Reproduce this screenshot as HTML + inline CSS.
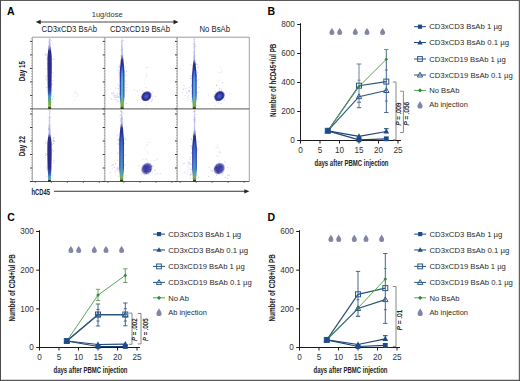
<!DOCTYPE html>
<html><head><meta charset="utf-8"><style>
html,body{margin:0;padding:0;background:#fff;}
svg{display:block;}
</style></head><body>
<svg width="520" height="381" viewBox="0 0 520 381" font-family="Liberation Sans, sans-serif">
<rect width="520" height="381" fill="#fff"/>
<text x="267.40" y="14.60" font-size="10.5" fill="#000" text-anchor="start" font-weight="bold" >B</text>
<line x1="300.50" y1="140.50" x2="300.50" y2="23.20" stroke="#1a1a1a" stroke-width="1.05" />
<line x1="300.00" y1="140.50" x2="401.00" y2="140.50" stroke="#1a1a1a" stroke-width="1.05" />
<line x1="297.20" y1="140.50" x2="300.50" y2="140.50" stroke="#1a1a1a" stroke-width="1" />
<text x="294.90" y="143.30" font-size="8.2" fill="#333" text-anchor="end" font-weight="normal" >0</text>
<line x1="297.20" y1="111.50" x2="300.50" y2="111.50" stroke="#1a1a1a" stroke-width="1" />
<text x="294.90" y="114.30" font-size="8.2" fill="#333" text-anchor="end" font-weight="normal" >200</text>
<line x1="297.20" y1="82.50" x2="300.50" y2="82.50" stroke="#1a1a1a" stroke-width="1" />
<text x="294.90" y="85.30" font-size="8.2" fill="#333" text-anchor="end" font-weight="normal" >400</text>
<line x1="297.20" y1="53.50" x2="300.50" y2="53.50" stroke="#1a1a1a" stroke-width="1" />
<text x="294.90" y="56.30" font-size="8.2" fill="#333" text-anchor="end" font-weight="normal" >600</text>
<line x1="297.20" y1="24.50" x2="300.50" y2="24.50" stroke="#1a1a1a" stroke-width="1" />
<text x="294.90" y="27.30" font-size="8.2" fill="#333" text-anchor="end" font-weight="normal" >800</text>
<line x1="300.50" y1="140.50" x2="300.50" y2="143.50" stroke="#1a1a1a" stroke-width="1" />
<text x="300.50" y="153.20" font-size="8.2" fill="#333" text-anchor="middle" font-weight="normal" >0</text>
<line x1="320.00" y1="140.50" x2="320.00" y2="143.50" stroke="#1a1a1a" stroke-width="1" />
<text x="320.00" y="153.20" font-size="8.2" fill="#333" text-anchor="middle" font-weight="normal" >5</text>
<line x1="339.50" y1="140.50" x2="339.50" y2="143.50" stroke="#1a1a1a" stroke-width="1" />
<text x="339.50" y="153.20" font-size="8.2" fill="#333" text-anchor="middle" font-weight="normal" >10</text>
<line x1="359.00" y1="140.50" x2="359.00" y2="143.50" stroke="#1a1a1a" stroke-width="1" />
<text x="359.00" y="153.20" font-size="8.2" fill="#333" text-anchor="middle" font-weight="normal" >15</text>
<line x1="378.50" y1="140.50" x2="378.50" y2="143.50" stroke="#1a1a1a" stroke-width="1" />
<text x="378.50" y="153.20" font-size="8.2" fill="#333" text-anchor="middle" font-weight="normal" >20</text>
<line x1="398.00" y1="140.50" x2="398.00" y2="143.50" stroke="#1a1a1a" stroke-width="1" />
<text x="398.00" y="153.20" font-size="8.2" fill="#333" text-anchor="middle" font-weight="normal" >25</text>
<text x="351.50" y="166.10" font-size="9" fill="#222" text-anchor="middle" font-weight="bold" textLength="74" lengthAdjust="spacingAndGlyphs" >days after PBMC injection</text>
<text x="275.90" y="80.35" font-size="9" fill="#222" text-anchor="middle" font-weight="bold" textLength="73.2" lengthAdjust="spacingAndGlyphs" transform="rotate(-90 275.90 80.35)" >Number of hCD45+/ul PB</text>
<path d="M331.90,27.70 C332.40,29.10 334.40,31.00 334.40,32.60 A2.50,2.50 0 0 1 329.40,32.60 C329.40,31.00 331.40,29.10 331.90,27.70 Z" fill="#8185a6"/>
<path d="M339.70,27.70 C340.20,29.10 342.20,31.00 342.20,32.60 A2.50,2.50 0 0 1 337.20,32.60 C337.20,31.00 339.20,29.10 339.70,27.70 Z" fill="#8185a6"/>
<path d="M355.30,27.70 C355.80,29.10 357.80,31.00 357.80,32.60 A2.50,2.50 0 0 1 352.80,32.60 C352.80,31.00 354.80,29.10 355.30,27.70 Z" fill="#8185a6"/>
<path d="M367.00,27.70 C367.50,29.10 369.50,31.00 369.50,32.60 A2.50,2.50 0 0 1 364.50,32.60 C364.50,31.00 366.50,29.10 367.00,27.70 Z" fill="#8185a6"/>
<path d="M382.60,27.70 C383.10,29.10 385.10,31.00 385.10,32.60 A2.50,2.50 0 0 1 380.10,32.60 C380.10,31.00 382.10,29.10 382.60,27.70 Z" fill="#8185a6"/>
<line x1="359.00" y1="64.00" x2="359.00" y2="107.70" stroke="#6a7e9e" stroke-width="1" />
<line x1="386.30" y1="49.50" x2="386.30" y2="112.50" stroke="#47678f" stroke-width="1" />
<line x1="386.30" y1="128.70" x2="386.30" y2="131.00" stroke="#1f4576" stroke-width="1" />
<line x1="356.60" y1="64.00" x2="361.40" y2="64.00" stroke="#6a7e9e" stroke-width="1" />
<line x1="357.60" y1="80.20" x2="360.40" y2="80.20" stroke="#6a7e9e" stroke-width="1" />
<line x1="357.00" y1="102.20" x2="361.00" y2="102.20" stroke="#47678f" stroke-width="1" />
<line x1="356.80" y1="107.70" x2="361.20" y2="107.70" stroke="#47678f" stroke-width="1" />
<line x1="384.10" y1="49.50" x2="388.50" y2="49.50" stroke="#6e9e66" stroke-width="1" />
<line x1="384.90" y1="70.00" x2="387.70" y2="70.00" stroke="#47678f" stroke-width="1" />
<line x1="384.90" y1="101.00" x2="387.70" y2="101.00" stroke="#47678f" stroke-width="1" />
<line x1="384.10" y1="112.50" x2="388.50" y2="112.50" stroke="#47678f" stroke-width="1" />
<line x1="384.00" y1="128.70" x2="388.60" y2="128.70" stroke="#1f4576" stroke-width="1" />
<polyline points="327.80,130.80 359.00,139.80 386.30,138.80" fill="none" stroke="#1f4576" stroke-width="1.2"/>
<polyline points="327.80,130.80 359.00,136.40 386.30,131.50" fill="none" stroke="#1f4576" stroke-width="1.2"/>
<polyline points="327.80,130.80 359.00,85.70 386.30,81.60" fill="none" stroke="#2b5580" stroke-width="1.2"/>
<polyline points="327.80,130.80 359.00,96.70 386.30,90.50" fill="none" stroke="#2b5580" stroke-width="1.2"/>
<polyline points="327.80,130.80 359.00,86.50 386.30,59.30" fill="none" stroke="#55a84c" stroke-width="1"/>
<rect x="325.30" y="128.30" width="5" height="5" fill="none" stroke="#2c5a8c" stroke-width="1"/>
<rect x="356.50" y="83.20" width="5" height="5" fill="none" stroke="#2c5a8c" stroke-width="1"/>
<rect x="383.80" y="79.10" width="5" height="5" fill="none" stroke="#2c5a8c" stroke-width="1"/>
<path d="M327.80,128.00 L330.50,132.80 L325.10,132.80 Z" fill="none" stroke="#2c5a8c" stroke-width="1"/>
<path d="M359.00,93.90 L361.70,98.70 L356.30,98.70 Z" fill="none" stroke="#2c5a8c" stroke-width="1"/>
<path d="M386.30,87.70 L389.00,92.50 L383.60,92.50 Z" fill="none" stroke="#2c5a8c" stroke-width="1"/>
<path d="M327.80,129.00 L329.60,130.80 L327.80,132.60 L326.00,130.80 Z" fill="#2f8a3a"/>
<path d="M359.00,84.70 L360.80,86.50 L359.00,88.30 L357.20,86.50 Z" fill="#2f8a3a"/>
<path d="M386.30,57.50 L388.10,59.30 L386.30,61.10 L384.50,59.30 Z" fill="#2f8a3a"/>
<path d="M327.80,127.70 L330.70,132.90 L324.90,132.90 Z" fill="#1c4c88"/>
<path d="M359.00,133.30 L361.90,138.50 L356.10,138.50 Z" fill="#1c4c88"/>
<path d="M386.30,128.40 L389.20,133.60 L383.40,133.60 Z" fill="#1c4c88"/>
<rect x="325.40" y="128.40" width="4.8" height="4.8" fill="#1c4c88"/>
<rect x="356.60" y="137.40" width="4.8" height="4.8" fill="#1c4c88"/>
<rect x="383.90" y="136.40" width="4.8" height="4.8" fill="#1c4c88"/>
<polyline points="392.80,82.00 396.00,82.00 396.00,139.80 392.80,139.80" fill="none" stroke="#7c7c76" stroke-width="0.9"/>
<text x="401.30" y="114.10" font-size="6.4" fill="#111" text-anchor="middle" font-weight="normal" textLength="23" lengthAdjust="spacingAndGlyphs" transform="rotate(-90 401.30 114.10)" stroke="#111" stroke-width="0.2"><tspan font-style="italic">P</tspan> = .009</text>
<polyline points="400.20,91.20 403.40,91.20 403.40,132.50 400.20,132.50" fill="none" stroke="#7c7c76" stroke-width="0.9"/>
<text x="408.60" y="113.70" font-size="6.4" fill="#111" text-anchor="middle" font-weight="normal" textLength="23.5" lengthAdjust="spacingAndGlyphs" transform="rotate(-90 408.60 113.70)" stroke="#111" stroke-width="0.2"><tspan font-style="italic">P</tspan> = .056</text>
<line x1="414.00" y1="26.70" x2="426.00" y2="26.70" stroke="#1f4576" stroke-width="1" />
<rect x="417.90" y="24.60" width="4.2" height="4.2" fill="#1c4c88"/>
<text x="429.20" y="29.40" font-size="7.7" fill="#2a2a2a" text-anchor="start" font-weight="normal" textLength="73" lengthAdjust="spacingAndGlyphs" >CD3xCD3 BsAb 1 µg</text>
<line x1="414.00" y1="42.55" x2="426.00" y2="42.55" stroke="#1f4576" stroke-width="1" />
<path d="M420.00,39.85 L422.60,44.45 L417.40,44.45 Z" fill="#1c4c88"/>
<text x="429.20" y="45.25" font-size="7.7" fill="#2a2a2a" text-anchor="start" font-weight="normal" textLength="80" lengthAdjust="spacingAndGlyphs" >CD3xCD3 BsAb 0.1 µg</text>
<line x1="414.00" y1="59.00" x2="426.00" y2="59.00" stroke="#2b5580" stroke-width="1" />
<rect x="417.60" y="56.60" width="4.8" height="4.8" fill="none" stroke="#2c5a8c" stroke-width="1"/>
<text x="429.20" y="61.70" font-size="7.7" fill="#2a2a2a" text-anchor="start" font-weight="normal" textLength="76.5" lengthAdjust="spacingAndGlyphs" >CD3xCD19 BsAb 1 µg</text>
<line x1="414.00" y1="75.00" x2="426.00" y2="75.00" stroke="#2b5580" stroke-width="1" />
<path d="M420.00,72.20 L422.70,77.00 L417.30,77.00 Z" fill="none" stroke="#2c5a8c" stroke-width="1"/>
<text x="429.20" y="77.70" font-size="7.7" fill="#2a2a2a" text-anchor="start" font-weight="normal" textLength="83.5" lengthAdjust="spacingAndGlyphs" >CD3xCD19 BsAb 0.1 µg</text>
<line x1="414.00" y1="90.40" x2="426.00" y2="90.40" stroke="#55a84c" stroke-width="1" />
<path d="M420.00,88.30 L422.10,90.40 L420.00,92.50 L417.90,90.40 Z" fill="#2f8a3a"/>
<text x="429.20" y="93.10" font-size="7.7" fill="#2a2a2a" text-anchor="start" font-weight="normal" textLength="30.2" lengthAdjust="spacingAndGlyphs" >No BsAb</text>
<path d="M420.00,100.90 C420.50,102.30 422.60,104.40 422.60,106.00 A2.60,2.60 0 0 1 417.40,106.00 C417.40,104.40 419.50,102.30 420.00,100.90 Z" fill="#8185a6"/>
<text x="429.20" y="107.40" font-size="7.7" fill="#2a2a2a" text-anchor="start" font-weight="normal" textLength="38.6" lengthAdjust="spacingAndGlyphs" >Ab injection</text>
<text x="7.20" y="221.00" font-size="10.5" fill="#000" text-anchor="start" font-weight="bold" >C</text>
<line x1="39.50" y1="347.50" x2="39.50" y2="230.20" stroke="#1a1a1a" stroke-width="1.05" />
<line x1="39.00" y1="347.50" x2="140.00" y2="347.50" stroke="#1a1a1a" stroke-width="1.05" />
<line x1="36.20" y1="347.50" x2="39.50" y2="347.50" stroke="#1a1a1a" stroke-width="1" />
<text x="33.90" y="350.30" font-size="8.2" fill="#333" text-anchor="end" font-weight="normal" >0</text>
<line x1="36.20" y1="308.83" x2="39.50" y2="308.83" stroke="#1a1a1a" stroke-width="1" />
<text x="33.90" y="311.63" font-size="8.2" fill="#333" text-anchor="end" font-weight="normal" >100</text>
<line x1="36.20" y1="270.17" x2="39.50" y2="270.17" stroke="#1a1a1a" stroke-width="1" />
<text x="33.90" y="272.97" font-size="8.2" fill="#333" text-anchor="end" font-weight="normal" >200</text>
<line x1="36.20" y1="231.50" x2="39.50" y2="231.50" stroke="#1a1a1a" stroke-width="1" />
<text x="33.90" y="234.30" font-size="8.2" fill="#333" text-anchor="end" font-weight="normal" >300</text>
<line x1="39.50" y1="347.50" x2="39.50" y2="350.50" stroke="#1a1a1a" stroke-width="1" />
<text x="39.50" y="360.20" font-size="8.2" fill="#333" text-anchor="middle" font-weight="normal" >0</text>
<line x1="59.00" y1="347.50" x2="59.00" y2="350.50" stroke="#1a1a1a" stroke-width="1" />
<text x="59.00" y="360.20" font-size="8.2" fill="#333" text-anchor="middle" font-weight="normal" >5</text>
<line x1="78.50" y1="347.50" x2="78.50" y2="350.50" stroke="#1a1a1a" stroke-width="1" />
<text x="78.50" y="360.20" font-size="8.2" fill="#333" text-anchor="middle" font-weight="normal" >10</text>
<line x1="98.00" y1="347.50" x2="98.00" y2="350.50" stroke="#1a1a1a" stroke-width="1" />
<text x="98.00" y="360.20" font-size="8.2" fill="#333" text-anchor="middle" font-weight="normal" >15</text>
<line x1="117.50" y1="347.50" x2="117.50" y2="350.50" stroke="#1a1a1a" stroke-width="1" />
<text x="117.50" y="360.20" font-size="8.2" fill="#333" text-anchor="middle" font-weight="normal" >20</text>
<line x1="137.00" y1="347.50" x2="137.00" y2="350.50" stroke="#1a1a1a" stroke-width="1" />
<text x="137.00" y="360.20" font-size="8.2" fill="#333" text-anchor="middle" font-weight="normal" >25</text>
<text x="90.50" y="373.10" font-size="9" fill="#222" text-anchor="middle" font-weight="bold" textLength="74" lengthAdjust="spacingAndGlyphs" >days after PBMC injection</text>
<text x="14.90" y="287.85" font-size="9" fill="#222" text-anchor="middle" font-weight="bold" textLength="67.3" lengthAdjust="spacingAndGlyphs" transform="rotate(-90 14.90 287.85)" >Number of CD4+/ul PB</text>
<path d="M70.90,245.70 C71.40,247.10 73.40,249.00 73.40,250.60 A2.50,2.50 0 0 1 68.40,250.60 C68.40,249.00 70.40,247.10 70.90,245.70 Z" fill="#8185a6"/>
<path d="M78.70,245.70 C79.20,247.10 81.20,249.00 81.20,250.60 A2.50,2.50 0 0 1 76.20,250.60 C76.20,249.00 78.20,247.10 78.70,245.70 Z" fill="#8185a6"/>
<path d="M94.30,245.70 C94.80,247.10 96.80,249.00 96.80,250.60 A2.50,2.50 0 0 1 91.80,250.60 C91.80,249.00 93.80,247.10 94.30,245.70 Z" fill="#8185a6"/>
<path d="M106.00,245.70 C106.50,247.10 108.50,249.00 108.50,250.60 A2.50,2.50 0 0 1 103.50,250.60 C103.50,249.00 105.50,247.10 106.00,245.70 Z" fill="#8185a6"/>
<path d="M121.60,245.70 C122.10,247.10 124.10,249.00 124.10,250.60 A2.50,2.50 0 0 1 119.10,250.60 C119.10,249.00 121.10,247.10 121.60,245.70 Z" fill="#8185a6"/>
<line x1="98.00" y1="304.00" x2="98.00" y2="326.00" stroke="#47678f" stroke-width="1" />
<line x1="125.30" y1="303.00" x2="125.30" y2="325.80" stroke="#47678f" stroke-width="1" />
<line x1="98.00" y1="289.30" x2="98.00" y2="300.60" stroke="#6e9e66" stroke-width="1" />
<line x1="125.30" y1="268.80" x2="125.30" y2="282.50" stroke="#6e9e66" stroke-width="1" />
<line x1="95.80" y1="304.00" x2="100.20" y2="304.00" stroke="#47678f" stroke-width="1" />
<line x1="96.50" y1="309.50" x2="99.50" y2="309.50" stroke="#47678f" stroke-width="1" />
<line x1="96.50" y1="321.00" x2="99.50" y2="321.00" stroke="#47678f" stroke-width="1" />
<line x1="95.80" y1="326.00" x2="100.20" y2="326.00" stroke="#47678f" stroke-width="1" />
<line x1="123.10" y1="303.00" x2="127.50" y2="303.00" stroke="#47678f" stroke-width="1" />
<line x1="123.80" y1="308.70" x2="126.80" y2="308.70" stroke="#47678f" stroke-width="1" />
<line x1="123.80" y1="321.00" x2="126.80" y2="321.00" stroke="#47678f" stroke-width="1" />
<line x1="123.10" y1="325.80" x2="127.50" y2="325.80" stroke="#47678f" stroke-width="1" />
<line x1="95.80" y1="289.30" x2="100.20" y2="289.30" stroke="#6e9e66" stroke-width="1" />
<line x1="95.80" y1="300.60" x2="100.20" y2="300.60" stroke="#6e9e66" stroke-width="1" />
<line x1="123.10" y1="268.80" x2="127.50" y2="268.80" stroke="#6e9e66" stroke-width="1" />
<line x1="123.10" y1="282.50" x2="127.50" y2="282.50" stroke="#6e9e66" stroke-width="1" />
<polyline points="66.80,341.00 98.00,346.50 125.30,346.50" fill="none" stroke="#1f4576" stroke-width="1.2"/>
<polyline points="66.80,341.00 98.00,344.50 125.30,344.20" fill="none" stroke="#1f4576" stroke-width="1.2"/>
<polyline points="66.80,341.00 98.00,314.50 125.30,314.50" fill="none" stroke="#2b5580" stroke-width="1.2"/>
<polyline points="66.80,341.00 98.00,314.80 125.30,314.80" fill="none" stroke="#2b5580" stroke-width="1.2"/>
<polyline points="66.80,341.00 98.00,295.10 125.30,275.40" fill="none" stroke="#55a84c" stroke-width="1"/>
<rect x="64.30" y="338.50" width="5" height="5" fill="none" stroke="#2c5a8c" stroke-width="1"/>
<rect x="95.50" y="312.00" width="5" height="5" fill="none" stroke="#2c5a8c" stroke-width="1"/>
<rect x="122.80" y="312.00" width="5" height="5" fill="none" stroke="#2c5a8c" stroke-width="1"/>
<path d="M66.80,338.20 L69.50,343.00 L64.10,343.00 Z" fill="none" stroke="#2c5a8c" stroke-width="1"/>
<path d="M98.00,312.00 L100.70,316.80 L95.30,316.80 Z" fill="none" stroke="#2c5a8c" stroke-width="1"/>
<path d="M125.30,312.00 L128.00,316.80 L122.60,316.80 Z" fill="none" stroke="#2c5a8c" stroke-width="1"/>
<path d="M66.80,339.20 L68.60,341.00 L66.80,342.80 L65.00,341.00 Z" fill="#2f8a3a"/>
<path d="M98.00,293.30 L99.80,295.10 L98.00,296.90 L96.20,295.10 Z" fill="#2f8a3a"/>
<path d="M125.30,273.60 L127.10,275.40 L125.30,277.20 L123.50,275.40 Z" fill="#2f8a3a"/>
<path d="M66.80,337.90 L69.70,343.10 L63.90,343.10 Z" fill="#1c4c88"/>
<path d="M98.00,341.40 L100.90,346.60 L95.10,346.60 Z" fill="#1c4c88"/>
<path d="M125.30,341.10 L128.20,346.30 L122.40,346.30 Z" fill="#1c4c88"/>
<rect x="64.40" y="338.60" width="4.8" height="4.8" fill="#1c4c88"/>
<rect x="95.60" y="344.10" width="4.8" height="4.8" fill="#1c4c88"/>
<rect x="122.90" y="344.10" width="4.8" height="4.8" fill="#1c4c88"/>
<polyline points="128.80,313.10 132.00,313.10 132.00,344.30 128.80,344.30" fill="none" stroke="#7c7c76" stroke-width="0.9"/>
<text x="137.30" y="329.70" font-size="6.4" fill="#111" text-anchor="middle" font-weight="normal" textLength="22.5" lengthAdjust="spacingAndGlyphs" transform="rotate(-90 137.30 329.70)" stroke="#111" stroke-width="0.2"><tspan font-style="italic">P</tspan> = .002</text>
<polyline points="137.80,313.50 141.00,313.50 141.00,343.90 137.80,343.90" fill="none" stroke="#7c7c76" stroke-width="0.9"/>
<text x="148.30" y="329.70" font-size="6.4" fill="#111" text-anchor="middle" font-weight="normal" textLength="22.5" lengthAdjust="spacingAndGlyphs" transform="rotate(-90 148.30 329.70)" stroke="#111" stroke-width="0.2"><tspan font-style="italic">P</tspan> = .005</text>
<line x1="153.00" y1="234.10" x2="165.00" y2="234.10" stroke="#1f4576" stroke-width="1" />
<rect x="156.90" y="232.00" width="4.2" height="4.2" fill="#1c4c88"/>
<text x="168.20" y="236.80" font-size="7.7" fill="#2a2a2a" text-anchor="start" font-weight="normal" textLength="73" lengthAdjust="spacingAndGlyphs" >CD3xCD3 BsAb 1 µg</text>
<line x1="153.00" y1="249.95" x2="165.00" y2="249.95" stroke="#1f4576" stroke-width="1" />
<path d="M159.00,247.25 L161.60,251.85 L156.40,251.85 Z" fill="#1c4c88"/>
<text x="168.20" y="252.65" font-size="7.7" fill="#2a2a2a" text-anchor="start" font-weight="normal" textLength="80" lengthAdjust="spacingAndGlyphs" >CD3xCD3 BsAb 0.1 µg</text>
<line x1="153.00" y1="266.40" x2="165.00" y2="266.40" stroke="#2b5580" stroke-width="1" />
<rect x="156.60" y="264.00" width="4.8" height="4.8" fill="none" stroke="#2c5a8c" stroke-width="1"/>
<text x="168.20" y="269.10" font-size="7.7" fill="#2a2a2a" text-anchor="start" font-weight="normal" textLength="76.5" lengthAdjust="spacingAndGlyphs" >CD3xCD19 BsAb 1 µg</text>
<line x1="153.00" y1="282.40" x2="165.00" y2="282.40" stroke="#2b5580" stroke-width="1" />
<path d="M159.00,279.60 L161.70,284.40 L156.30,284.40 Z" fill="none" stroke="#2c5a8c" stroke-width="1"/>
<text x="168.20" y="285.10" font-size="7.7" fill="#2a2a2a" text-anchor="start" font-weight="normal" textLength="83.5" lengthAdjust="spacingAndGlyphs" >CD3xCD19 BsAb 0.1 µg</text>
<line x1="153.00" y1="297.80" x2="165.00" y2="297.80" stroke="#55a84c" stroke-width="1" />
<path d="M159.00,295.70 L161.10,297.80 L159.00,299.90 L156.90,297.80 Z" fill="#2f8a3a"/>
<text x="168.20" y="300.50" font-size="7.7" fill="#2a2a2a" text-anchor="start" font-weight="normal" textLength="20.7" lengthAdjust="spacingAndGlyphs" >No Ab</text>
<path d="M159.00,308.30 C159.50,309.70 161.60,311.80 161.60,313.40 A2.60,2.60 0 0 1 156.40,313.40 C156.40,311.80 158.50,309.70 159.00,308.30 Z" fill="#8185a6"/>
<text x="168.20" y="314.80" font-size="7.7" fill="#2a2a2a" text-anchor="start" font-weight="normal" textLength="38.6" lengthAdjust="spacingAndGlyphs" >Ab injection</text>
<text x="267.40" y="221.40" font-size="10.5" fill="#000" text-anchor="start" font-weight="bold" >D</text>
<line x1="299.50" y1="347.50" x2="299.50" y2="230.20" stroke="#1a1a1a" stroke-width="1.05" />
<line x1="299.00" y1="347.50" x2="400.00" y2="347.50" stroke="#1a1a1a" stroke-width="1.05" />
<line x1="296.20" y1="347.50" x2="299.50" y2="347.50" stroke="#1a1a1a" stroke-width="1" />
<text x="293.90" y="350.30" font-size="8.2" fill="#333" text-anchor="end" font-weight="normal" >0</text>
<line x1="296.20" y1="308.83" x2="299.50" y2="308.83" stroke="#1a1a1a" stroke-width="1" />
<text x="293.90" y="311.63" font-size="8.2" fill="#333" text-anchor="end" font-weight="normal" >200</text>
<line x1="296.20" y1="270.17" x2="299.50" y2="270.17" stroke="#1a1a1a" stroke-width="1" />
<text x="293.90" y="272.97" font-size="8.2" fill="#333" text-anchor="end" font-weight="normal" >400</text>
<line x1="296.20" y1="231.50" x2="299.50" y2="231.50" stroke="#1a1a1a" stroke-width="1" />
<text x="293.90" y="234.30" font-size="8.2" fill="#333" text-anchor="end" font-weight="normal" >600</text>
<line x1="299.50" y1="347.50" x2="299.50" y2="350.50" stroke="#1a1a1a" stroke-width="1" />
<text x="299.50" y="360.20" font-size="8.2" fill="#333" text-anchor="middle" font-weight="normal" >0</text>
<line x1="319.00" y1="347.50" x2="319.00" y2="350.50" stroke="#1a1a1a" stroke-width="1" />
<text x="319.00" y="360.20" font-size="8.2" fill="#333" text-anchor="middle" font-weight="normal" >5</text>
<line x1="338.50" y1="347.50" x2="338.50" y2="350.50" stroke="#1a1a1a" stroke-width="1" />
<text x="338.50" y="360.20" font-size="8.2" fill="#333" text-anchor="middle" font-weight="normal" >10</text>
<line x1="358.00" y1="347.50" x2="358.00" y2="350.50" stroke="#1a1a1a" stroke-width="1" />
<text x="358.00" y="360.20" font-size="8.2" fill="#333" text-anchor="middle" font-weight="normal" >15</text>
<line x1="377.50" y1="347.50" x2="377.50" y2="350.50" stroke="#1a1a1a" stroke-width="1" />
<text x="377.50" y="360.20" font-size="8.2" fill="#333" text-anchor="middle" font-weight="normal" >20</text>
<line x1="397.00" y1="347.50" x2="397.00" y2="350.50" stroke="#1a1a1a" stroke-width="1" />
<text x="397.00" y="360.20" font-size="8.2" fill="#333" text-anchor="middle" font-weight="normal" >25</text>
<text x="350.50" y="373.10" font-size="9" fill="#222" text-anchor="middle" font-weight="bold" textLength="74" lengthAdjust="spacingAndGlyphs" >days after PBMC injection</text>
<text x="275.40" y="287.85" font-size="9" fill="#222" text-anchor="middle" font-weight="bold" textLength="67.3" lengthAdjust="spacingAndGlyphs" transform="rotate(-90 275.40 287.85)" >Number of CD8+/ul PB</text>
<path d="M330.90,234.50 C331.40,235.90 333.40,237.80 333.40,239.40 A2.50,2.50 0 0 1 328.40,239.40 C328.40,237.80 330.40,235.90 330.90,234.50 Z" fill="#8185a6"/>
<path d="M338.70,234.50 C339.20,235.90 341.20,237.80 341.20,239.40 A2.50,2.50 0 0 1 336.20,239.40 C336.20,237.80 338.20,235.90 338.70,234.50 Z" fill="#8185a6"/>
<path d="M354.30,234.50 C354.80,235.90 356.80,237.80 356.80,239.40 A2.50,2.50 0 0 1 351.80,239.40 C351.80,237.80 353.80,235.90 354.30,234.50 Z" fill="#8185a6"/>
<path d="M366.00,234.50 C366.50,235.90 368.50,237.80 368.50,239.40 A2.50,2.50 0 0 1 363.50,239.40 C363.50,237.80 365.50,235.90 366.00,234.50 Z" fill="#8185a6"/>
<path d="M381.60,234.50 C382.10,235.90 384.10,237.80 384.10,239.40 A2.50,2.50 0 0 1 379.10,239.40 C379.10,237.80 381.10,235.90 381.60,234.50 Z" fill="#8185a6"/>
<line x1="358.00" y1="271.40" x2="358.00" y2="316.30" stroke="#47678f" stroke-width="1" />
<line x1="385.30" y1="253.50" x2="385.30" y2="323.40" stroke="#47678f" stroke-width="1" />
<line x1="385.30" y1="335.70" x2="385.30" y2="338.80" stroke="#1f4576" stroke-width="1" />
<line x1="355.80" y1="271.40" x2="360.20" y2="271.40" stroke="#47678f" stroke-width="1" />
<line x1="356.60" y1="299.80" x2="359.40" y2="299.80" stroke="#47678f" stroke-width="1" />
<line x1="355.80" y1="316.30" x2="360.20" y2="316.30" stroke="#2a4a50" stroke-width="1" />
<line x1="383.10" y1="253.50" x2="387.50" y2="253.50" stroke="#47678f" stroke-width="1" />
<line x1="383.90" y1="268.60" x2="386.70" y2="268.60" stroke="#5a8a6a" stroke-width="1" />
<line x1="383.90" y1="309.70" x2="386.70" y2="309.70" stroke="#47678f" stroke-width="1" />
<line x1="383.10" y1="323.40" x2="387.50" y2="323.40" stroke="#47678f" stroke-width="1" />
<line x1="383.00" y1="335.70" x2="387.60" y2="335.70" stroke="#1f4576" stroke-width="1" />
<polyline points="326.80,339.90 358.00,346.50 385.30,345.40" fill="none" stroke="#1f4576" stroke-width="1.2"/>
<polyline points="326.80,339.90 358.00,344.50 385.30,338.80" fill="none" stroke="#1f4576" stroke-width="1.2"/>
<polyline points="326.80,339.90 358.00,294.30 385.30,288.10" fill="none" stroke="#2b5580" stroke-width="1.2"/>
<polyline points="326.80,339.90 358.00,308.50 385.30,299.60" fill="none" stroke="#2b5580" stroke-width="1.2"/>
<polyline points="326.80,339.90 358.00,308.00 385.30,279.10" fill="none" stroke="#55a84c" stroke-width="1"/>
<rect x="324.30" y="337.40" width="5" height="5" fill="none" stroke="#2c5a8c" stroke-width="1"/>
<rect x="355.50" y="291.80" width="5" height="5" fill="none" stroke="#2c5a8c" stroke-width="1"/>
<rect x="382.80" y="285.60" width="5" height="5" fill="none" stroke="#2c5a8c" stroke-width="1"/>
<path d="M326.80,337.10 L329.50,341.90 L324.10,341.90 Z" fill="none" stroke="#2c5a8c" stroke-width="1"/>
<path d="M358.00,305.70 L360.70,310.50 L355.30,310.50 Z" fill="none" stroke="#2c5a8c" stroke-width="1"/>
<path d="M385.30,296.80 L388.00,301.60 L382.60,301.60 Z" fill="none" stroke="#2c5a8c" stroke-width="1"/>
<path d="M326.80,338.10 L328.60,339.90 L326.80,341.70 L325.00,339.90 Z" fill="#2f8a3a"/>
<path d="M358.00,306.20 L359.80,308.00 L358.00,309.80 L356.20,308.00 Z" fill="#2f8a3a"/>
<path d="M385.30,277.30 L387.10,279.10 L385.30,280.90 L383.50,279.10 Z" fill="#2f8a3a"/>
<path d="M326.80,336.80 L329.70,342.00 L323.90,342.00 Z" fill="#1c4c88"/>
<path d="M358.00,341.40 L360.90,346.60 L355.10,346.60 Z" fill="#1c4c88"/>
<path d="M385.30,335.70 L388.20,340.90 L382.40,340.90 Z" fill="#1c4c88"/>
<rect x="324.40" y="337.50" width="4.8" height="4.8" fill="#1c4c88"/>
<rect x="355.60" y="344.10" width="4.8" height="4.8" fill="#1c4c88"/>
<rect x="382.90" y="343.00" width="4.8" height="4.8" fill="#1c4c88"/>
<polyline points="392.80,286.50 396.00,286.50 396.00,346.40 392.80,346.40" fill="none" stroke="#7c7c76" stroke-width="0.9"/>
<text x="402.20" y="320.00" font-size="6.4" fill="#111" text-anchor="middle" font-weight="normal" textLength="20.5" lengthAdjust="spacingAndGlyphs" transform="rotate(-90 402.20 320.00)" stroke="#111" stroke-width="0.2"><tspan font-style="italic">P</tspan> = .01</text>
<line x1="414.20" y1="234.10" x2="426.20" y2="234.10" stroke="#1f4576" stroke-width="1" />
<rect x="418.10" y="232.00" width="4.2" height="4.2" fill="#1c4c88"/>
<text x="429.40" y="236.80" font-size="7.7" fill="#2a2a2a" text-anchor="start" font-weight="normal" textLength="73" lengthAdjust="spacingAndGlyphs" >CD3xCD3 BsAb 1 µg</text>
<line x1="414.20" y1="249.95" x2="426.20" y2="249.95" stroke="#1f4576" stroke-width="1" />
<path d="M420.20,247.25 L422.80,251.85 L417.60,251.85 Z" fill="#1c4c88"/>
<text x="429.40" y="252.65" font-size="7.7" fill="#2a2a2a" text-anchor="start" font-weight="normal" textLength="80" lengthAdjust="spacingAndGlyphs" >CD3xCD3 BsAb 0.1 µg</text>
<line x1="414.20" y1="266.40" x2="426.20" y2="266.40" stroke="#2b5580" stroke-width="1" />
<rect x="417.80" y="264.00" width="4.8" height="4.8" fill="none" stroke="#2c5a8c" stroke-width="1"/>
<text x="429.40" y="269.10" font-size="7.7" fill="#2a2a2a" text-anchor="start" font-weight="normal" textLength="76.5" lengthAdjust="spacingAndGlyphs" >CD3xCD19 BsAb 1 µg</text>
<line x1="414.20" y1="282.40" x2="426.20" y2="282.40" stroke="#2b5580" stroke-width="1" />
<path d="M420.20,279.60 L422.90,284.40 L417.50,284.40 Z" fill="none" stroke="#2c5a8c" stroke-width="1"/>
<text x="429.40" y="285.10" font-size="7.7" fill="#2a2a2a" text-anchor="start" font-weight="normal" textLength="83.5" lengthAdjust="spacingAndGlyphs" >CD3xCD19 BsAb 0.1 µg</text>
<line x1="414.20" y1="297.80" x2="426.20" y2="297.80" stroke="#55a84c" stroke-width="1" />
<path d="M420.20,295.70 L422.30,297.80 L420.20,299.90 L418.10,297.80 Z" fill="#2f8a3a"/>
<text x="429.40" y="300.50" font-size="7.7" fill="#2a2a2a" text-anchor="start" font-weight="normal" textLength="30.2" lengthAdjust="spacingAndGlyphs" >No BsAb</text>
<path d="M420.20,308.30 C420.70,309.70 422.80,311.80 422.80,313.40 A2.60,2.60 0 0 1 417.60,313.40 C417.60,311.80 419.70,309.70 420.20,308.30 Z" fill="#8185a6"/>
<text x="429.40" y="314.80" font-size="7.7" fill="#2a2a2a" text-anchor="start" font-weight="normal" textLength="38.6" lengthAdjust="spacingAndGlyphs" >Ab injection</text>
<text x="6.90" y="14.60" font-size="10.5" fill="#000" text-anchor="start" font-weight="bold" >A</text>
<text x="107.20" y="16.90" font-size="7.4" fill="#333" text-anchor="middle" font-weight="normal" textLength="30.8" lengthAdjust="spacingAndGlyphs" >1ug/dose</text>
<line x1="38.00" y1="22.00" x2="177.00" y2="22.00" stroke="#4a4a4a" stroke-width="1.1" />
<path d="M35.7,22 L40.7,19.8 L40.7,24.3 Z" fill="#222"/>
<path d="M178.5,22 L173.5,19.8 L173.5,24.3 Z" fill="#222"/>
<text x="69.30" y="31.90" font-size="8.3" fill="#222" text-anchor="middle" font-weight="normal" textLength="55.5" lengthAdjust="spacingAndGlyphs" >CD3xCD3 BsAb</text>
<text x="140.00" y="31.90" font-size="8.3" fill="#222" text-anchor="middle" font-weight="normal" textLength="60" lengthAdjust="spacingAndGlyphs" >CD3xCD19 BsAb</text>
<text x="214.70" y="31.90" font-size="8.3" fill="#222" text-anchor="middle" font-weight="normal" textLength="30.6" lengthAdjust="spacingAndGlyphs" >No BsAb</text>
<text x="25.20" y="71.20" font-size="8.8" fill="#222" text-anchor="middle" font-weight="bold" textLength="20.2" lengthAdjust="spacingAndGlyphs" transform="rotate(-90 25.20 71.20)" >Day 15</text>
<text x="25.30" y="146.10" font-size="8.8" fill="#222" text-anchor="middle" font-weight="bold" textLength="20.4" lengthAdjust="spacingAndGlyphs" transform="rotate(-90 25.30 146.10)" >Day 22</text>
<text x="31.50" y="194.50" font-size="9" fill="#222" text-anchor="start" font-weight="bold" textLength="18.5" lengthAdjust="spacingAndGlyphs" >hCD45</text>
<line x1="54.00" y1="191.30" x2="246.00" y2="191.30" stroke="#333" stroke-width="1.1" />
<path d="M249.3,191.3 L244.4,189.2 L244.4,193.4 Z" fill="#222"/>
<line x1="32.30" y1="37.20" x2="249.30" y2="37.20" stroke="#9a9a9a" stroke-width="1" />
<line x1="249.30" y1="37.20" x2="249.30" y2="181.50" stroke="#a0a0a0" stroke-width="1" />
<line x1="32.30" y1="37.20" x2="32.30" y2="181.80" stroke="#999" stroke-width="0.9" />
<line x1="104.90" y1="37.20" x2="104.90" y2="181.80" stroke="#999" stroke-width="0.9" />
<line x1="177.20" y1="37.20" x2="177.20" y2="181.80" stroke="#999" stroke-width="0.9" />
<line x1="32.00" y1="108.90" x2="249.30" y2="108.90" stroke="#7a7a7a" stroke-width="1.1" />
<line x1="32.00" y1="181.50" x2="249.30" y2="181.50" stroke="#5a5a5a" stroke-width="1.1" />
<line x1="30.10" y1="108.90" x2="32.30" y2="108.90" stroke="#333" stroke-width="1" />
<line x1="30.10" y1="95.40" x2="32.30" y2="95.40" stroke="#333" stroke-width="1" />
<line x1="30.10" y1="81.90" x2="32.30" y2="81.90" stroke="#333" stroke-width="1" />
<line x1="30.10" y1="68.40" x2="32.30" y2="68.40" stroke="#333" stroke-width="1" />
<line x1="30.10" y1="54.90" x2="32.30" y2="54.90" stroke="#333" stroke-width="1" />
<line x1="30.10" y1="41.40" x2="32.30" y2="41.40" stroke="#333" stroke-width="1" />
<line x1="31.20" y1="106.20" x2="32.30" y2="106.20" stroke="#777" stroke-width="0.6" />
<line x1="31.20" y1="103.50" x2="32.30" y2="103.50" stroke="#777" stroke-width="0.6" />
<line x1="31.20" y1="100.80" x2="32.30" y2="100.80" stroke="#777" stroke-width="0.6" />
<line x1="31.20" y1="98.10" x2="32.30" y2="98.10" stroke="#777" stroke-width="0.6" />
<line x1="31.20" y1="92.70" x2="32.30" y2="92.70" stroke="#777" stroke-width="0.6" />
<line x1="31.20" y1="90.00" x2="32.30" y2="90.00" stroke="#777" stroke-width="0.6" />
<line x1="31.20" y1="87.30" x2="32.30" y2="87.30" stroke="#777" stroke-width="0.6" />
<line x1="31.20" y1="84.60" x2="32.30" y2="84.60" stroke="#777" stroke-width="0.6" />
<line x1="31.20" y1="79.20" x2="32.30" y2="79.20" stroke="#777" stroke-width="0.6" />
<line x1="31.20" y1="76.50" x2="32.30" y2="76.50" stroke="#777" stroke-width="0.6" />
<line x1="31.20" y1="73.80" x2="32.30" y2="73.80" stroke="#777" stroke-width="0.6" />
<line x1="31.20" y1="71.10" x2="32.30" y2="71.10" stroke="#777" stroke-width="0.6" />
<line x1="31.20" y1="65.70" x2="32.30" y2="65.70" stroke="#777" stroke-width="0.6" />
<line x1="31.20" y1="63.00" x2="32.30" y2="63.00" stroke="#777" stroke-width="0.6" />
<line x1="31.20" y1="60.30" x2="32.30" y2="60.30" stroke="#777" stroke-width="0.6" />
<line x1="31.20" y1="57.60" x2="32.30" y2="57.60" stroke="#777" stroke-width="0.6" />
<line x1="31.20" y1="52.20" x2="32.30" y2="52.20" stroke="#777" stroke-width="0.6" />
<line x1="31.20" y1="49.50" x2="32.30" y2="49.50" stroke="#777" stroke-width="0.6" />
<line x1="31.20" y1="46.80" x2="32.30" y2="46.80" stroke="#777" stroke-width="0.6" />
<line x1="31.20" y1="44.10" x2="32.30" y2="44.10" stroke="#777" stroke-width="0.6" />
<line x1="31.20" y1="38.70" x2="32.30" y2="38.70" stroke="#777" stroke-width="0.6" />
<line x1="30.10" y1="181.50" x2="32.30" y2="181.50" stroke="#333" stroke-width="1" />
<line x1="30.10" y1="168.00" x2="32.30" y2="168.00" stroke="#333" stroke-width="1" />
<line x1="30.10" y1="154.50" x2="32.30" y2="154.50" stroke="#333" stroke-width="1" />
<line x1="30.10" y1="141.00" x2="32.30" y2="141.00" stroke="#333" stroke-width="1" />
<line x1="30.10" y1="127.50" x2="32.30" y2="127.50" stroke="#333" stroke-width="1" />
<line x1="30.10" y1="114.00" x2="32.30" y2="114.00" stroke="#333" stroke-width="1" />
<line x1="31.20" y1="178.80" x2="32.30" y2="178.80" stroke="#777" stroke-width="0.6" />
<line x1="31.20" y1="176.10" x2="32.30" y2="176.10" stroke="#777" stroke-width="0.6" />
<line x1="31.20" y1="173.40" x2="32.30" y2="173.40" stroke="#777" stroke-width="0.6" />
<line x1="31.20" y1="170.70" x2="32.30" y2="170.70" stroke="#777" stroke-width="0.6" />
<line x1="31.20" y1="165.30" x2="32.30" y2="165.30" stroke="#777" stroke-width="0.6" />
<line x1="31.20" y1="162.60" x2="32.30" y2="162.60" stroke="#777" stroke-width="0.6" />
<line x1="31.20" y1="159.90" x2="32.30" y2="159.90" stroke="#777" stroke-width="0.6" />
<line x1="31.20" y1="157.20" x2="32.30" y2="157.20" stroke="#777" stroke-width="0.6" />
<line x1="31.20" y1="151.80" x2="32.30" y2="151.80" stroke="#777" stroke-width="0.6" />
<line x1="31.20" y1="149.10" x2="32.30" y2="149.10" stroke="#777" stroke-width="0.6" />
<line x1="31.20" y1="146.40" x2="32.30" y2="146.40" stroke="#777" stroke-width="0.6" />
<line x1="31.20" y1="143.70" x2="32.30" y2="143.70" stroke="#777" stroke-width="0.6" />
<line x1="31.20" y1="138.30" x2="32.30" y2="138.30" stroke="#777" stroke-width="0.6" />
<line x1="31.20" y1="135.60" x2="32.30" y2="135.60" stroke="#777" stroke-width="0.6" />
<line x1="31.20" y1="132.90" x2="32.30" y2="132.90" stroke="#777" stroke-width="0.6" />
<line x1="31.20" y1="130.20" x2="32.30" y2="130.20" stroke="#777" stroke-width="0.6" />
<line x1="31.20" y1="124.80" x2="32.30" y2="124.80" stroke="#777" stroke-width="0.6" />
<line x1="31.20" y1="122.10" x2="32.30" y2="122.10" stroke="#777" stroke-width="0.6" />
<line x1="31.20" y1="119.40" x2="32.30" y2="119.40" stroke="#777" stroke-width="0.6" />
<line x1="31.20" y1="116.70" x2="32.30" y2="116.70" stroke="#777" stroke-width="0.6" />
<line x1="31.20" y1="111.30" x2="32.30" y2="111.30" stroke="#777" stroke-width="0.6" />
<line x1="35.30" y1="181.50" x2="35.30" y2="183.00" stroke="#555" stroke-width="0.8" />
<line x1="51.30" y1="181.50" x2="51.30" y2="183.00" stroke="#555" stroke-width="0.8" />
<line x1="67.30" y1="181.50" x2="67.30" y2="183.00" stroke="#555" stroke-width="0.8" />
<line x1="83.30" y1="181.50" x2="83.30" y2="183.00" stroke="#555" stroke-width="0.8" />
<line x1="99.30" y1="181.50" x2="99.30" y2="183.00" stroke="#555" stroke-width="0.8" />
<line x1="102.70" y1="108.90" x2="104.90" y2="108.90" stroke="#333" stroke-width="1" />
<line x1="102.70" y1="95.40" x2="104.90" y2="95.40" stroke="#333" stroke-width="1" />
<line x1="102.70" y1="81.90" x2="104.90" y2="81.90" stroke="#333" stroke-width="1" />
<line x1="102.70" y1="68.40" x2="104.90" y2="68.40" stroke="#333" stroke-width="1" />
<line x1="102.70" y1="54.90" x2="104.90" y2="54.90" stroke="#333" stroke-width="1" />
<line x1="102.70" y1="41.40" x2="104.90" y2="41.40" stroke="#333" stroke-width="1" />
<line x1="103.80" y1="106.20" x2="104.90" y2="106.20" stroke="#777" stroke-width="0.6" />
<line x1="103.80" y1="103.50" x2="104.90" y2="103.50" stroke="#777" stroke-width="0.6" />
<line x1="103.80" y1="100.80" x2="104.90" y2="100.80" stroke="#777" stroke-width="0.6" />
<line x1="103.80" y1="98.10" x2="104.90" y2="98.10" stroke="#777" stroke-width="0.6" />
<line x1="103.80" y1="92.70" x2="104.90" y2="92.70" stroke="#777" stroke-width="0.6" />
<line x1="103.80" y1="90.00" x2="104.90" y2="90.00" stroke="#777" stroke-width="0.6" />
<line x1="103.80" y1="87.30" x2="104.90" y2="87.30" stroke="#777" stroke-width="0.6" />
<line x1="103.80" y1="84.60" x2="104.90" y2="84.60" stroke="#777" stroke-width="0.6" />
<line x1="103.80" y1="79.20" x2="104.90" y2="79.20" stroke="#777" stroke-width="0.6" />
<line x1="103.80" y1="76.50" x2="104.90" y2="76.50" stroke="#777" stroke-width="0.6" />
<line x1="103.80" y1="73.80" x2="104.90" y2="73.80" stroke="#777" stroke-width="0.6" />
<line x1="103.80" y1="71.10" x2="104.90" y2="71.10" stroke="#777" stroke-width="0.6" />
<line x1="103.80" y1="65.70" x2="104.90" y2="65.70" stroke="#777" stroke-width="0.6" />
<line x1="103.80" y1="63.00" x2="104.90" y2="63.00" stroke="#777" stroke-width="0.6" />
<line x1="103.80" y1="60.30" x2="104.90" y2="60.30" stroke="#777" stroke-width="0.6" />
<line x1="103.80" y1="57.60" x2="104.90" y2="57.60" stroke="#777" stroke-width="0.6" />
<line x1="103.80" y1="52.20" x2="104.90" y2="52.20" stroke="#777" stroke-width="0.6" />
<line x1="103.80" y1="49.50" x2="104.90" y2="49.50" stroke="#777" stroke-width="0.6" />
<line x1="103.80" y1="46.80" x2="104.90" y2="46.80" stroke="#777" stroke-width="0.6" />
<line x1="103.80" y1="44.10" x2="104.90" y2="44.10" stroke="#777" stroke-width="0.6" />
<line x1="103.80" y1="38.70" x2="104.90" y2="38.70" stroke="#777" stroke-width="0.6" />
<line x1="102.70" y1="181.50" x2="104.90" y2="181.50" stroke="#333" stroke-width="1" />
<line x1="102.70" y1="168.00" x2="104.90" y2="168.00" stroke="#333" stroke-width="1" />
<line x1="102.70" y1="154.50" x2="104.90" y2="154.50" stroke="#333" stroke-width="1" />
<line x1="102.70" y1="141.00" x2="104.90" y2="141.00" stroke="#333" stroke-width="1" />
<line x1="102.70" y1="127.50" x2="104.90" y2="127.50" stroke="#333" stroke-width="1" />
<line x1="102.70" y1="114.00" x2="104.90" y2="114.00" stroke="#333" stroke-width="1" />
<line x1="103.80" y1="178.80" x2="104.90" y2="178.80" stroke="#777" stroke-width="0.6" />
<line x1="103.80" y1="176.10" x2="104.90" y2="176.10" stroke="#777" stroke-width="0.6" />
<line x1="103.80" y1="173.40" x2="104.90" y2="173.40" stroke="#777" stroke-width="0.6" />
<line x1="103.80" y1="170.70" x2="104.90" y2="170.70" stroke="#777" stroke-width="0.6" />
<line x1="103.80" y1="165.30" x2="104.90" y2="165.30" stroke="#777" stroke-width="0.6" />
<line x1="103.80" y1="162.60" x2="104.90" y2="162.60" stroke="#777" stroke-width="0.6" />
<line x1="103.80" y1="159.90" x2="104.90" y2="159.90" stroke="#777" stroke-width="0.6" />
<line x1="103.80" y1="157.20" x2="104.90" y2="157.20" stroke="#777" stroke-width="0.6" />
<line x1="103.80" y1="151.80" x2="104.90" y2="151.80" stroke="#777" stroke-width="0.6" />
<line x1="103.80" y1="149.10" x2="104.90" y2="149.10" stroke="#777" stroke-width="0.6" />
<line x1="103.80" y1="146.40" x2="104.90" y2="146.40" stroke="#777" stroke-width="0.6" />
<line x1="103.80" y1="143.70" x2="104.90" y2="143.70" stroke="#777" stroke-width="0.6" />
<line x1="103.80" y1="138.30" x2="104.90" y2="138.30" stroke="#777" stroke-width="0.6" />
<line x1="103.80" y1="135.60" x2="104.90" y2="135.60" stroke="#777" stroke-width="0.6" />
<line x1="103.80" y1="132.90" x2="104.90" y2="132.90" stroke="#777" stroke-width="0.6" />
<line x1="103.80" y1="130.20" x2="104.90" y2="130.20" stroke="#777" stroke-width="0.6" />
<line x1="103.80" y1="124.80" x2="104.90" y2="124.80" stroke="#777" stroke-width="0.6" />
<line x1="103.80" y1="122.10" x2="104.90" y2="122.10" stroke="#777" stroke-width="0.6" />
<line x1="103.80" y1="119.40" x2="104.90" y2="119.40" stroke="#777" stroke-width="0.6" />
<line x1="103.80" y1="116.70" x2="104.90" y2="116.70" stroke="#777" stroke-width="0.6" />
<line x1="103.80" y1="111.30" x2="104.90" y2="111.30" stroke="#777" stroke-width="0.6" />
<line x1="107.90" y1="181.50" x2="107.90" y2="183.00" stroke="#555" stroke-width="0.8" />
<line x1="123.90" y1="181.50" x2="123.90" y2="183.00" stroke="#555" stroke-width="0.8" />
<line x1="139.90" y1="181.50" x2="139.90" y2="183.00" stroke="#555" stroke-width="0.8" />
<line x1="155.90" y1="181.50" x2="155.90" y2="183.00" stroke="#555" stroke-width="0.8" />
<line x1="171.90" y1="181.50" x2="171.90" y2="183.00" stroke="#555" stroke-width="0.8" />
<line x1="175.00" y1="108.90" x2="177.20" y2="108.90" stroke="#333" stroke-width="1" />
<line x1="175.00" y1="95.40" x2="177.20" y2="95.40" stroke="#333" stroke-width="1" />
<line x1="175.00" y1="81.90" x2="177.20" y2="81.90" stroke="#333" stroke-width="1" />
<line x1="175.00" y1="68.40" x2="177.20" y2="68.40" stroke="#333" stroke-width="1" />
<line x1="175.00" y1="54.90" x2="177.20" y2="54.90" stroke="#333" stroke-width="1" />
<line x1="175.00" y1="41.40" x2="177.20" y2="41.40" stroke="#333" stroke-width="1" />
<line x1="176.10" y1="106.20" x2="177.20" y2="106.20" stroke="#777" stroke-width="0.6" />
<line x1="176.10" y1="103.50" x2="177.20" y2="103.50" stroke="#777" stroke-width="0.6" />
<line x1="176.10" y1="100.80" x2="177.20" y2="100.80" stroke="#777" stroke-width="0.6" />
<line x1="176.10" y1="98.10" x2="177.20" y2="98.10" stroke="#777" stroke-width="0.6" />
<line x1="176.10" y1="92.70" x2="177.20" y2="92.70" stroke="#777" stroke-width="0.6" />
<line x1="176.10" y1="90.00" x2="177.20" y2="90.00" stroke="#777" stroke-width="0.6" />
<line x1="176.10" y1="87.30" x2="177.20" y2="87.30" stroke="#777" stroke-width="0.6" />
<line x1="176.10" y1="84.60" x2="177.20" y2="84.60" stroke="#777" stroke-width="0.6" />
<line x1="176.10" y1="79.20" x2="177.20" y2="79.20" stroke="#777" stroke-width="0.6" />
<line x1="176.10" y1="76.50" x2="177.20" y2="76.50" stroke="#777" stroke-width="0.6" />
<line x1="176.10" y1="73.80" x2="177.20" y2="73.80" stroke="#777" stroke-width="0.6" />
<line x1="176.10" y1="71.10" x2="177.20" y2="71.10" stroke="#777" stroke-width="0.6" />
<line x1="176.10" y1="65.70" x2="177.20" y2="65.70" stroke="#777" stroke-width="0.6" />
<line x1="176.10" y1="63.00" x2="177.20" y2="63.00" stroke="#777" stroke-width="0.6" />
<line x1="176.10" y1="60.30" x2="177.20" y2="60.30" stroke="#777" stroke-width="0.6" />
<line x1="176.10" y1="57.60" x2="177.20" y2="57.60" stroke="#777" stroke-width="0.6" />
<line x1="176.10" y1="52.20" x2="177.20" y2="52.20" stroke="#777" stroke-width="0.6" />
<line x1="176.10" y1="49.50" x2="177.20" y2="49.50" stroke="#777" stroke-width="0.6" />
<line x1="176.10" y1="46.80" x2="177.20" y2="46.80" stroke="#777" stroke-width="0.6" />
<line x1="176.10" y1="44.10" x2="177.20" y2="44.10" stroke="#777" stroke-width="0.6" />
<line x1="176.10" y1="38.70" x2="177.20" y2="38.70" stroke="#777" stroke-width="0.6" />
<line x1="175.00" y1="181.50" x2="177.20" y2="181.50" stroke="#333" stroke-width="1" />
<line x1="175.00" y1="168.00" x2="177.20" y2="168.00" stroke="#333" stroke-width="1" />
<line x1="175.00" y1="154.50" x2="177.20" y2="154.50" stroke="#333" stroke-width="1" />
<line x1="175.00" y1="141.00" x2="177.20" y2="141.00" stroke="#333" stroke-width="1" />
<line x1="175.00" y1="127.50" x2="177.20" y2="127.50" stroke="#333" stroke-width="1" />
<line x1="175.00" y1="114.00" x2="177.20" y2="114.00" stroke="#333" stroke-width="1" />
<line x1="176.10" y1="178.80" x2="177.20" y2="178.80" stroke="#777" stroke-width="0.6" />
<line x1="176.10" y1="176.10" x2="177.20" y2="176.10" stroke="#777" stroke-width="0.6" />
<line x1="176.10" y1="173.40" x2="177.20" y2="173.40" stroke="#777" stroke-width="0.6" />
<line x1="176.10" y1="170.70" x2="177.20" y2="170.70" stroke="#777" stroke-width="0.6" />
<line x1="176.10" y1="165.30" x2="177.20" y2="165.30" stroke="#777" stroke-width="0.6" />
<line x1="176.10" y1="162.60" x2="177.20" y2="162.60" stroke="#777" stroke-width="0.6" />
<line x1="176.10" y1="159.90" x2="177.20" y2="159.90" stroke="#777" stroke-width="0.6" />
<line x1="176.10" y1="157.20" x2="177.20" y2="157.20" stroke="#777" stroke-width="0.6" />
<line x1="176.10" y1="151.80" x2="177.20" y2="151.80" stroke="#777" stroke-width="0.6" />
<line x1="176.10" y1="149.10" x2="177.20" y2="149.10" stroke="#777" stroke-width="0.6" />
<line x1="176.10" y1="146.40" x2="177.20" y2="146.40" stroke="#777" stroke-width="0.6" />
<line x1="176.10" y1="143.70" x2="177.20" y2="143.70" stroke="#777" stroke-width="0.6" />
<line x1="176.10" y1="138.30" x2="177.20" y2="138.30" stroke="#777" stroke-width="0.6" />
<line x1="176.10" y1="135.60" x2="177.20" y2="135.60" stroke="#777" stroke-width="0.6" />
<line x1="176.10" y1="132.90" x2="177.20" y2="132.90" stroke="#777" stroke-width="0.6" />
<line x1="176.10" y1="130.20" x2="177.20" y2="130.20" stroke="#777" stroke-width="0.6" />
<line x1="176.10" y1="124.80" x2="177.20" y2="124.80" stroke="#777" stroke-width="0.6" />
<line x1="176.10" y1="122.10" x2="177.20" y2="122.10" stroke="#777" stroke-width="0.6" />
<line x1="176.10" y1="119.40" x2="177.20" y2="119.40" stroke="#777" stroke-width="0.6" />
<line x1="176.10" y1="116.70" x2="177.20" y2="116.70" stroke="#777" stroke-width="0.6" />
<line x1="176.10" y1="111.30" x2="177.20" y2="111.30" stroke="#777" stroke-width="0.6" />
<line x1="180.20" y1="181.50" x2="180.20" y2="183.00" stroke="#555" stroke-width="0.8" />
<line x1="196.20" y1="181.50" x2="196.20" y2="183.00" stroke="#555" stroke-width="0.8" />
<line x1="212.20" y1="181.50" x2="212.20" y2="183.00" stroke="#555" stroke-width="0.8" />
<line x1="228.20" y1="181.50" x2="228.20" y2="183.00" stroke="#555" stroke-width="0.8" />
<line x1="244.20" y1="181.50" x2="244.20" y2="183.00" stroke="#555" stroke-width="0.8" />
<circle cx="50.11" cy="43.20" r="0.5" fill="#8080d0" fill-opacity="0.45"/>
<circle cx="50.31" cy="39.55" r="0.5" fill="#8080d0" fill-opacity="0.45"/>
<circle cx="49.46" cy="46.27" r="0.5" fill="#8080d0" fill-opacity="0.45"/>
<circle cx="49.75" cy="45.86" r="0.5" fill="#8080d0" fill-opacity="0.45"/>
<circle cx="49.39" cy="39.04" r="0.5" fill="#8080d0" fill-opacity="0.45"/>
<circle cx="49.69" cy="39.82" r="0.5" fill="#8080d0" fill-opacity="0.45"/>
<circle cx="49.74" cy="44.66" r="0.5" fill="#8080d0" fill-opacity="0.45"/>
<circle cx="49.33" cy="41.74" r="0.5" fill="#8080d0" fill-opacity="0.45"/>
<circle cx="50.35" cy="47.60" r="0.5" fill="#8080d0" fill-opacity="0.45"/>
<circle cx="49.35" cy="44.25" r="0.5" fill="#8080d0" fill-opacity="0.45"/>
<circle cx="50.74" cy="52.66" r="0.5" fill="#8080d0" fill-opacity="0.45"/>
<circle cx="49.94" cy="42.70" r="0.5" fill="#8080d0" fill-opacity="0.45"/>
<circle cx="49.98" cy="40.59" r="0.5" fill="#8080d0" fill-opacity="0.45"/>
<circle cx="49.95" cy="50.33" r="0.5" fill="#8080d0" fill-opacity="0.45"/>
<circle cx="48.85" cy="41.12" r="0.5" fill="#8080d0" fill-opacity="0.45"/>
<circle cx="49.18" cy="43.90" r="0.5" fill="#8080d0" fill-opacity="0.45"/>
<circle cx="49.79" cy="46.44" r="0.5" fill="#8080d0" fill-opacity="0.45"/>
<circle cx="49.68" cy="41.49" r="0.5" fill="#8080d0" fill-opacity="0.45"/>
<circle cx="49.13" cy="48.37" r="0.5" fill="#8080d0" fill-opacity="0.45"/>
<circle cx="49.83" cy="46.99" r="0.5" fill="#8080d0" fill-opacity="0.45"/>
<circle cx="49.27" cy="45.07" r="0.5" fill="#8080d0" fill-opacity="0.45"/>
<circle cx="50.62" cy="48.64" r="0.5" fill="#8080d0" fill-opacity="0.45"/>
<circle cx="48.95" cy="42.04" r="0.5" fill="#8080d0" fill-opacity="0.45"/>
<circle cx="49.27" cy="51.19" r="0.5" fill="#8080d0" fill-opacity="0.45"/>
<circle cx="49.20" cy="49.08" r="0.5" fill="#8080d0" fill-opacity="0.45"/>
<circle cx="51.23" cy="40.21" r="0.5" fill="#8080d0" fill-opacity="0.45"/>
<circle cx="49.62" cy="44.56" r="0.5" fill="#8080d0" fill-opacity="0.45"/>
<circle cx="49.26" cy="45.59" r="0.5" fill="#8080d0" fill-opacity="0.45"/>
<circle cx="49.10" cy="39.07" r="0.5" fill="#8080d0" fill-opacity="0.45"/>
<circle cx="48.71" cy="46.81" r="0.5" fill="#8080d0" fill-opacity="0.45"/>
<circle cx="49.24" cy="51.19" r="0.5" fill="#8080d0" fill-opacity="0.45"/>
<circle cx="50.45" cy="47.12" r="0.5" fill="#8080d0" fill-opacity="0.45"/>
<circle cx="48.49" cy="46.91" r="0.5" fill="#8080d0" fill-opacity="0.45"/>
<circle cx="49.91" cy="52.20" r="0.5" fill="#8080d0" fill-opacity="0.45"/>
<circle cx="49.49" cy="45.37" r="0.5" fill="#8080d0" fill-opacity="0.45"/>
<circle cx="52.31" cy="90.00" r="0.5" fill="#7070c8" fill-opacity="0.45"/>
<circle cx="51.66" cy="72.45" r="0.5" fill="#7070c8" fill-opacity="0.45"/>
<circle cx="46.07" cy="76.67" r="0.5" fill="#7070c8" fill-opacity="0.45"/>
<circle cx="45.68" cy="78.45" r="0.5" fill="#7070c8" fill-opacity="0.45"/>
<circle cx="46.61" cy="58.19" r="0.5" fill="#7070c8" fill-opacity="0.45"/>
<circle cx="51.80" cy="101.97" r="0.5" fill="#7070c8" fill-opacity="0.45"/>
<circle cx="53.81" cy="75.97" r="0.5" fill="#7070c8" fill-opacity="0.45"/>
<circle cx="53.37" cy="96.55" r="0.5" fill="#7070c8" fill-opacity="0.45"/>
<circle cx="53.99" cy="105.85" r="0.5" fill="#7070c8" fill-opacity="0.45"/>
<circle cx="47.22" cy="59.39" r="0.5" fill="#7070c8" fill-opacity="0.45"/>
<circle cx="46.39" cy="87.61" r="0.5" fill="#7070c8" fill-opacity="0.45"/>
<circle cx="52.30" cy="83.76" r="0.5" fill="#7070c8" fill-opacity="0.45"/>
<circle cx="53.12" cy="59.10" r="0.5" fill="#7070c8" fill-opacity="0.45"/>
<circle cx="45.87" cy="68.71" r="0.5" fill="#7070c8" fill-opacity="0.45"/>
<circle cx="46.46" cy="79.66" r="0.5" fill="#7070c8" fill-opacity="0.45"/>
<circle cx="52.60" cy="99.43" r="0.5" fill="#7070c8" fill-opacity="0.45"/>
<circle cx="53.19" cy="72.91" r="0.5" fill="#7070c8" fill-opacity="0.45"/>
<circle cx="45.14" cy="54.46" r="0.5" fill="#7070c8" fill-opacity="0.45"/>
<circle cx="46.75" cy="75.50" r="0.5" fill="#7070c8" fill-opacity="0.45"/>
<circle cx="46.18" cy="53.92" r="0.5" fill="#7070c8" fill-opacity="0.45"/>
<circle cx="53.13" cy="80.84" r="0.5" fill="#7070c8" fill-opacity="0.45"/>
<circle cx="46.06" cy="54.91" r="0.5" fill="#7070c8" fill-opacity="0.45"/>
<circle cx="53.99" cy="59.26" r="0.5" fill="#7070c8" fill-opacity="0.45"/>
<circle cx="51.91" cy="84.49" r="0.5" fill="#7070c8" fill-opacity="0.45"/>
<circle cx="52.80" cy="98.20" r="0.5" fill="#7070c8" fill-opacity="0.45"/>
<linearGradient id="g1" gradientUnits="userSpaceOnUse" x1="0" y1="38.00" x2="0" y2="108.60"><stop offset="0.000" stop-color="#c8c8ee" stop-opacity="0.5"/><stop offset="0.113" stop-color="#a0a0dc" stop-opacity="0.8"/><stop offset="0.184" stop-color="#2c2c88" stop-opacity="1"/><stop offset="0.688" stop-color="#2a2a8c" stop-opacity="1"/><stop offset="0.773" stop-color="#3458b8" stop-opacity="1"/><stop offset="0.830" stop-color="#4a98c8" stop-opacity="1"/><stop offset="0.887" stop-color="#5aa860" stop-opacity="1"/><stop offset="0.958" stop-color="#88b040" stop-opacity="1"/><stop offset="1.000" stop-color="#4a7028" stop-opacity="1"/></linearGradient>
<path d="M49.60,38.50 L50.10,38.50 50.40,45.00 50.90,49.00 51.70,56.00 51.80,66.00 51.50,88.60 51.10,100.60 50.90,108.60 L48.30,108.60 48.10,100.60 47.70,88.60 47.40,66.00 47.50,56.00 48.30,49.00 48.80,45.00 49.10,38.50 Z" fill="url(#g1)"/>
<rect x="48.10" y="107.40" width="3" height="1.6" fill="#2a3a20"/>
<circle cx="121.92" cy="45.83" r="0.5" fill="#8080d0" fill-opacity="0.45"/>
<circle cx="122.10" cy="41.89" r="0.5" fill="#8080d0" fill-opacity="0.45"/>
<circle cx="121.11" cy="49.75" r="0.5" fill="#8080d0" fill-opacity="0.45"/>
<circle cx="121.70" cy="54.76" r="0.5" fill="#8080d0" fill-opacity="0.45"/>
<circle cx="122.06" cy="60.87" r="0.5" fill="#8080d0" fill-opacity="0.45"/>
<circle cx="121.61" cy="47.00" r="0.5" fill="#8080d0" fill-opacity="0.45"/>
<circle cx="120.86" cy="56.32" r="0.5" fill="#8080d0" fill-opacity="0.45"/>
<circle cx="121.94" cy="45.51" r="0.5" fill="#8080d0" fill-opacity="0.45"/>
<circle cx="121.90" cy="58.37" r="0.5" fill="#8080d0" fill-opacity="0.45"/>
<circle cx="122.57" cy="50.68" r="0.5" fill="#8080d0" fill-opacity="0.45"/>
<circle cx="121.79" cy="43.74" r="0.5" fill="#8080d0" fill-opacity="0.45"/>
<circle cx="121.25" cy="51.23" r="0.5" fill="#8080d0" fill-opacity="0.45"/>
<circle cx="122.09" cy="52.91" r="0.5" fill="#8080d0" fill-opacity="0.45"/>
<circle cx="122.12" cy="57.03" r="0.5" fill="#8080d0" fill-opacity="0.45"/>
<circle cx="121.71" cy="44.13" r="0.5" fill="#8080d0" fill-opacity="0.45"/>
<circle cx="122.23" cy="47.92" r="0.5" fill="#8080d0" fill-opacity="0.45"/>
<circle cx="121.72" cy="50.08" r="0.5" fill="#8080d0" fill-opacity="0.45"/>
<circle cx="123.16" cy="55.68" r="0.5" fill="#8080d0" fill-opacity="0.45"/>
<circle cx="122.03" cy="49.60" r="0.5" fill="#8080d0" fill-opacity="0.45"/>
<circle cx="121.66" cy="43.05" r="0.5" fill="#8080d0" fill-opacity="0.45"/>
<circle cx="121.76" cy="57.50" r="0.5" fill="#8080d0" fill-opacity="0.45"/>
<circle cx="121.15" cy="55.49" r="0.5" fill="#8080d0" fill-opacity="0.45"/>
<circle cx="123.42" cy="40.39" r="0.5" fill="#8080d0" fill-opacity="0.45"/>
<circle cx="121.56" cy="40.90" r="0.5" fill="#8080d0" fill-opacity="0.45"/>
<circle cx="122.20" cy="49.84" r="0.5" fill="#8080d0" fill-opacity="0.45"/>
<circle cx="122.07" cy="61.65" r="0.5" fill="#8080d0" fill-opacity="0.45"/>
<circle cx="122.08" cy="59.87" r="0.5" fill="#8080d0" fill-opacity="0.45"/>
<circle cx="121.39" cy="46.58" r="0.5" fill="#8080d0" fill-opacity="0.45"/>
<circle cx="121.21" cy="41.32" r="0.5" fill="#8080d0" fill-opacity="0.45"/>
<circle cx="122.00" cy="47.63" r="0.5" fill="#8080d0" fill-opacity="0.45"/>
<circle cx="121.71" cy="59.39" r="0.5" fill="#8080d0" fill-opacity="0.45"/>
<circle cx="121.93" cy="48.70" r="0.5" fill="#8080d0" fill-opacity="0.45"/>
<circle cx="121.91" cy="60.73" r="0.5" fill="#8080d0" fill-opacity="0.45"/>
<circle cx="121.14" cy="55.46" r="0.5" fill="#8080d0" fill-opacity="0.45"/>
<circle cx="122.33" cy="40.50" r="0.5" fill="#8080d0" fill-opacity="0.45"/>
<circle cx="120.03" cy="67.40" r="0.5" fill="#7070c8" fill-opacity="0.45"/>
<circle cx="126.12" cy="87.53" r="0.5" fill="#7070c8" fill-opacity="0.45"/>
<circle cx="125.74" cy="66.81" r="0.5" fill="#7070c8" fill-opacity="0.45"/>
<circle cx="120.05" cy="76.33" r="0.5" fill="#7070c8" fill-opacity="0.45"/>
<circle cx="118.78" cy="97.25" r="0.5" fill="#7070c8" fill-opacity="0.45"/>
<circle cx="126.57" cy="103.51" r="0.5" fill="#7070c8" fill-opacity="0.45"/>
<circle cx="120.03" cy="69.08" r="0.5" fill="#7070c8" fill-opacity="0.45"/>
<circle cx="118.19" cy="69.92" r="0.5" fill="#7070c8" fill-opacity="0.45"/>
<circle cx="126.19" cy="75.19" r="0.5" fill="#7070c8" fill-opacity="0.45"/>
<circle cx="126.34" cy="62.84" r="0.5" fill="#7070c8" fill-opacity="0.45"/>
<circle cx="126.17" cy="90.87" r="0.5" fill="#7070c8" fill-opacity="0.45"/>
<circle cx="118.77" cy="100.92" r="0.5" fill="#7070c8" fill-opacity="0.45"/>
<circle cx="117.92" cy="84.40" r="0.5" fill="#7070c8" fill-opacity="0.45"/>
<circle cx="118.16" cy="96.19" r="0.5" fill="#7070c8" fill-opacity="0.45"/>
<circle cx="118.92" cy="66.98" r="0.5" fill="#7070c8" fill-opacity="0.45"/>
<circle cx="119.29" cy="93.79" r="0.5" fill="#7070c8" fill-opacity="0.45"/>
<circle cx="126.06" cy="84.16" r="0.5" fill="#7070c8" fill-opacity="0.45"/>
<circle cx="119.48" cy="64.94" r="0.5" fill="#7070c8" fill-opacity="0.45"/>
<circle cx="118.83" cy="72.90" r="0.5" fill="#7070c8" fill-opacity="0.45"/>
<circle cx="118.99" cy="86.18" r="0.5" fill="#7070c8" fill-opacity="0.45"/>
<circle cx="118.37" cy="88.54" r="0.5" fill="#7070c8" fill-opacity="0.45"/>
<circle cx="125.37" cy="81.08" r="0.5" fill="#7070c8" fill-opacity="0.45"/>
<circle cx="126.41" cy="71.54" r="0.5" fill="#7070c8" fill-opacity="0.45"/>
<circle cx="118.00" cy="101.60" r="0.5" fill="#7070c8" fill-opacity="0.45"/>
<circle cx="119.12" cy="66.39" r="0.5" fill="#7070c8" fill-opacity="0.45"/>
<linearGradient id="g2" gradientUnits="userSpaceOnUse" x1="0" y1="38.00" x2="0" y2="108.60"><stop offset="0.000" stop-color="#c8c8ee" stop-opacity="0.5"/><stop offset="0.241" stop-color="#a0a0dc" stop-opacity="0.8"/><stop offset="0.312" stop-color="#2c2c88" stop-opacity="1"/><stop offset="0.425" stop-color="#2a36a4" stop-opacity="1"/><stop offset="0.802" stop-color="#3050bc" stop-opacity="1"/><stop offset="0.887" stop-color="#4a90c0" stop-opacity="1"/><stop offset="0.943" stop-color="#80b048" stop-opacity="1"/><stop offset="1.000" stop-color="#4a7028" stop-opacity="1"/></linearGradient>
<path d="M122.10,38.50 L122.60,38.50 122.80,54.00 123.20,58.00 123.70,63.00 124.50,72.00 124.50,96.60 123.80,104.60 123.50,108.60 L120.70,108.60 120.40,104.60 119.70,96.60 119.70,72.00 120.50,63.00 121.00,58.00 121.40,54.00 121.60,38.50 Z" fill="url(#g2)"/>
<linearGradient id="g3" gradientUnits="userSpaceOnUse" x1="0" y1="60.00" x2="0" y2="108.60"><stop offset="0.000" stop-color="#3a60c8" stop-opacity="0"/><stop offset="0.150" stop-color="#3a78d4" stop-opacity="1"/><stop offset="0.400" stop-color="#50a8d8" stop-opacity="1"/><stop offset="0.750" stop-color="#5ab8b0" stop-opacity="1"/><stop offset="0.900" stop-color="#80b048" stop-opacity="1"/><stop offset="1.000" stop-color="#5a8a30" stop-opacity="1"/></linearGradient>
<path d="M122.10,66.00 L122.40,66.00 123.20,74.00 123.30,98.60 123.00,108.60 L121.20,108.60 120.90,98.60 121.00,74.00 121.80,66.00 Z" fill="url(#g3)"/>
<rect x="120.60" y="107.40" width="3" height="1.6" fill="#2a3a20"/>
<circle cx="194.00" cy="47.19" r="0.5" fill="#8080d0" fill-opacity="0.45"/>
<circle cx="193.74" cy="44.35" r="0.5" fill="#8080d0" fill-opacity="0.45"/>
<circle cx="195.05" cy="46.83" r="0.5" fill="#8080d0" fill-opacity="0.45"/>
<circle cx="195.02" cy="64.34" r="0.5" fill="#8080d0" fill-opacity="0.45"/>
<circle cx="193.99" cy="56.20" r="0.5" fill="#8080d0" fill-opacity="0.45"/>
<circle cx="194.64" cy="42.27" r="0.5" fill="#8080d0" fill-opacity="0.45"/>
<circle cx="194.29" cy="51.36" r="0.5" fill="#8080d0" fill-opacity="0.45"/>
<circle cx="194.03" cy="62.84" r="0.5" fill="#8080d0" fill-opacity="0.45"/>
<circle cx="194.09" cy="42.98" r="0.5" fill="#8080d0" fill-opacity="0.45"/>
<circle cx="193.93" cy="57.92" r="0.5" fill="#8080d0" fill-opacity="0.45"/>
<circle cx="193.78" cy="65.84" r="0.5" fill="#8080d0" fill-opacity="0.45"/>
<circle cx="194.66" cy="48.31" r="0.5" fill="#8080d0" fill-opacity="0.45"/>
<circle cx="193.94" cy="41.04" r="0.5" fill="#8080d0" fill-opacity="0.45"/>
<circle cx="194.71" cy="51.11" r="0.5" fill="#8080d0" fill-opacity="0.45"/>
<circle cx="193.76" cy="57.84" r="0.5" fill="#8080d0" fill-opacity="0.45"/>
<circle cx="194.78" cy="46.62" r="0.5" fill="#8080d0" fill-opacity="0.45"/>
<circle cx="195.32" cy="64.92" r="0.5" fill="#8080d0" fill-opacity="0.45"/>
<circle cx="195.17" cy="44.79" r="0.5" fill="#8080d0" fill-opacity="0.45"/>
<circle cx="194.71" cy="62.60" r="0.5" fill="#8080d0" fill-opacity="0.45"/>
<circle cx="194.54" cy="63.41" r="0.5" fill="#8080d0" fill-opacity="0.45"/>
<circle cx="194.34" cy="43.49" r="0.5" fill="#8080d0" fill-opacity="0.45"/>
<circle cx="193.19" cy="61.86" r="0.5" fill="#8080d0" fill-opacity="0.45"/>
<circle cx="194.88" cy="57.09" r="0.5" fill="#8080d0" fill-opacity="0.45"/>
<circle cx="194.10" cy="53.26" r="0.5" fill="#8080d0" fill-opacity="0.45"/>
<circle cx="193.77" cy="52.66" r="0.5" fill="#8080d0" fill-opacity="0.45"/>
<circle cx="194.32" cy="46.17" r="0.5" fill="#8080d0" fill-opacity="0.45"/>
<circle cx="194.82" cy="60.49" r="0.5" fill="#8080d0" fill-opacity="0.45"/>
<circle cx="195.46" cy="45.90" r="0.5" fill="#8080d0" fill-opacity="0.45"/>
<circle cx="194.70" cy="38.96" r="0.5" fill="#8080d0" fill-opacity="0.45"/>
<circle cx="194.55" cy="55.22" r="0.5" fill="#8080d0" fill-opacity="0.45"/>
<circle cx="194.27" cy="44.62" r="0.5" fill="#8080d0" fill-opacity="0.45"/>
<circle cx="194.60" cy="38.82" r="0.5" fill="#8080d0" fill-opacity="0.45"/>
<circle cx="193.14" cy="65.84" r="0.5" fill="#8080d0" fill-opacity="0.45"/>
<circle cx="194.96" cy="55.60" r="0.5" fill="#8080d0" fill-opacity="0.45"/>
<circle cx="193.94" cy="39.69" r="0.5" fill="#8080d0" fill-opacity="0.45"/>
<circle cx="196.43" cy="105.29" r="0.5" fill="#7070c8" fill-opacity="0.45"/>
<circle cx="197.87" cy="72.60" r="0.5" fill="#7070c8" fill-opacity="0.45"/>
<circle cx="191.58" cy="86.62" r="0.5" fill="#7070c8" fill-opacity="0.45"/>
<circle cx="191.62" cy="85.30" r="0.5" fill="#7070c8" fill-opacity="0.45"/>
<circle cx="196.39" cy="98.24" r="0.5" fill="#7070c8" fill-opacity="0.45"/>
<circle cx="191.01" cy="64.79" r="0.5" fill="#7070c8" fill-opacity="0.45"/>
<circle cx="196.57" cy="74.47" r="0.5" fill="#7070c8" fill-opacity="0.45"/>
<circle cx="197.94" cy="98.89" r="0.5" fill="#7070c8" fill-opacity="0.45"/>
<circle cx="198.73" cy="87.26" r="0.5" fill="#7070c8" fill-opacity="0.45"/>
<circle cx="189.84" cy="77.11" r="0.5" fill="#7070c8" fill-opacity="0.45"/>
<circle cx="191.29" cy="78.60" r="0.5" fill="#7070c8" fill-opacity="0.45"/>
<circle cx="190.21" cy="78.81" r="0.5" fill="#7070c8" fill-opacity="0.45"/>
<circle cx="197.38" cy="64.61" r="0.5" fill="#7070c8" fill-opacity="0.45"/>
<circle cx="198.48" cy="66.36" r="0.5" fill="#7070c8" fill-opacity="0.45"/>
<circle cx="197.80" cy="92.57" r="0.5" fill="#7070c8" fill-opacity="0.45"/>
<circle cx="191.15" cy="93.51" r="0.5" fill="#7070c8" fill-opacity="0.45"/>
<circle cx="196.31" cy="70.71" r="0.5" fill="#7070c8" fill-opacity="0.45"/>
<circle cx="198.73" cy="79.51" r="0.5" fill="#7070c8" fill-opacity="0.45"/>
<circle cx="192.21" cy="87.31" r="0.5" fill="#7070c8" fill-opacity="0.45"/>
<circle cx="191.41" cy="101.59" r="0.5" fill="#7070c8" fill-opacity="0.45"/>
<circle cx="196.51" cy="64.05" r="0.5" fill="#7070c8" fill-opacity="0.45"/>
<circle cx="191.68" cy="75.88" r="0.5" fill="#7070c8" fill-opacity="0.45"/>
<circle cx="191.64" cy="97.07" r="0.5" fill="#7070c8" fill-opacity="0.45"/>
<circle cx="197.77" cy="67.82" r="0.5" fill="#7070c8" fill-opacity="0.45"/>
<circle cx="197.06" cy="80.78" r="0.5" fill="#7070c8" fill-opacity="0.45"/>
<linearGradient id="g4" gradientUnits="userSpaceOnUse" x1="0" y1="38.00" x2="0" y2="108.60"><stop offset="0.000" stop-color="#c8c8ee" stop-opacity="0.5"/><stop offset="0.297" stop-color="#a0a0dc" stop-opacity="0.8"/><stop offset="0.368" stop-color="#2c2c88" stop-opacity="1"/><stop offset="0.482" stop-color="#2a36a4" stop-opacity="1"/><stop offset="0.802" stop-color="#3050bc" stop-opacity="1"/><stop offset="0.887" stop-color="#4a90c0" stop-opacity="1"/><stop offset="0.943" stop-color="#80b048" stop-opacity="1"/><stop offset="1.000" stop-color="#4a7028" stop-opacity="1"/></linearGradient>
<path d="M194.30,38.50 L194.80,38.50 195.00,58.00 195.40,62.00 195.90,67.00 196.70,76.00 196.70,96.60 196.00,104.60 195.70,108.60 L192.90,108.60 192.60,104.60 191.90,96.60 191.90,76.00 192.70,67.00 193.20,62.00 193.60,58.00 193.80,38.50 Z" fill="url(#g4)"/>
<linearGradient id="g5" gradientUnits="userSpaceOnUse" x1="0" y1="64.00" x2="0" y2="108.60"><stop offset="0.000" stop-color="#3a60c8" stop-opacity="0"/><stop offset="0.150" stop-color="#3a78d4" stop-opacity="1"/><stop offset="0.400" stop-color="#50a8d8" stop-opacity="1"/><stop offset="0.750" stop-color="#5ab8b0" stop-opacity="1"/><stop offset="0.900" stop-color="#80b048" stop-opacity="1"/><stop offset="1.000" stop-color="#5a8a30" stop-opacity="1"/></linearGradient>
<path d="M194.30,70.00 L194.60,70.00 195.40,78.00 195.50,98.60 195.20,108.60 L193.40,108.60 193.10,98.60 193.20,78.00 194.00,70.00 Z" fill="url(#g5)"/>
<rect x="192.80" y="107.40" width="3" height="1.6" fill="#2a3a20"/>
<circle cx="48.13" cy="117.37" r="0.5" fill="#8080d0" fill-opacity="0.45"/>
<circle cx="48.52" cy="127.77" r="0.5" fill="#8080d0" fill-opacity="0.45"/>
<circle cx="49.32" cy="129.90" r="0.5" fill="#8080d0" fill-opacity="0.45"/>
<circle cx="49.93" cy="131.62" r="0.5" fill="#8080d0" fill-opacity="0.45"/>
<circle cx="49.09" cy="120.12" r="0.5" fill="#8080d0" fill-opacity="0.45"/>
<circle cx="50.07" cy="139.55" r="0.5" fill="#8080d0" fill-opacity="0.45"/>
<circle cx="50.28" cy="129.47" r="0.5" fill="#8080d0" fill-opacity="0.45"/>
<circle cx="50.15" cy="111.79" r="0.5" fill="#8080d0" fill-opacity="0.45"/>
<circle cx="48.41" cy="129.01" r="0.5" fill="#8080d0" fill-opacity="0.45"/>
<circle cx="49.63" cy="132.15" r="0.5" fill="#8080d0" fill-opacity="0.45"/>
<circle cx="49.20" cy="125.95" r="0.5" fill="#8080d0" fill-opacity="0.45"/>
<circle cx="50.05" cy="125.38" r="0.5" fill="#8080d0" fill-opacity="0.45"/>
<circle cx="48.57" cy="134.88" r="0.5" fill="#8080d0" fill-opacity="0.45"/>
<circle cx="50.21" cy="127.73" r="0.5" fill="#8080d0" fill-opacity="0.45"/>
<circle cx="48.93" cy="130.95" r="0.5" fill="#8080d0" fill-opacity="0.45"/>
<circle cx="49.81" cy="117.28" r="0.5" fill="#8080d0" fill-opacity="0.45"/>
<circle cx="49.56" cy="121.14" r="0.5" fill="#8080d0" fill-opacity="0.45"/>
<circle cx="49.89" cy="113.60" r="0.5" fill="#8080d0" fill-opacity="0.45"/>
<circle cx="48.84" cy="129.02" r="0.5" fill="#8080d0" fill-opacity="0.45"/>
<circle cx="49.21" cy="128.97" r="0.5" fill="#8080d0" fill-opacity="0.45"/>
<circle cx="48.87" cy="110.60" r="0.5" fill="#8080d0" fill-opacity="0.45"/>
<circle cx="49.49" cy="134.03" r="0.5" fill="#8080d0" fill-opacity="0.45"/>
<circle cx="48.79" cy="126.29" r="0.5" fill="#8080d0" fill-opacity="0.45"/>
<circle cx="50.40" cy="129.95" r="0.5" fill="#8080d0" fill-opacity="0.45"/>
<circle cx="49.90" cy="117.94" r="0.5" fill="#8080d0" fill-opacity="0.45"/>
<circle cx="49.41" cy="112.70" r="0.5" fill="#8080d0" fill-opacity="0.45"/>
<circle cx="50.47" cy="116.55" r="0.5" fill="#8080d0" fill-opacity="0.45"/>
<circle cx="50.19" cy="132.32" r="0.5" fill="#8080d0" fill-opacity="0.45"/>
<circle cx="49.39" cy="121.79" r="0.5" fill="#8080d0" fill-opacity="0.45"/>
<circle cx="49.09" cy="124.63" r="0.5" fill="#8080d0" fill-opacity="0.45"/>
<circle cx="48.56" cy="128.70" r="0.5" fill="#8080d0" fill-opacity="0.45"/>
<circle cx="49.80" cy="129.46" r="0.5" fill="#8080d0" fill-opacity="0.45"/>
<circle cx="49.66" cy="117.99" r="0.5" fill="#8080d0" fill-opacity="0.45"/>
<circle cx="49.24" cy="132.42" r="0.5" fill="#8080d0" fill-opacity="0.45"/>
<circle cx="50.23" cy="110.87" r="0.5" fill="#8080d0" fill-opacity="0.45"/>
<circle cx="53.93" cy="140.50" r="0.5" fill="#7070c8" fill-opacity="0.45"/>
<circle cx="45.81" cy="142.10" r="0.5" fill="#7070c8" fill-opacity="0.45"/>
<circle cx="52.66" cy="149.98" r="0.5" fill="#7070c8" fill-opacity="0.45"/>
<circle cx="45.02" cy="157.21" r="0.5" fill="#7070c8" fill-opacity="0.45"/>
<circle cx="53.95" cy="160.62" r="0.5" fill="#7070c8" fill-opacity="0.45"/>
<circle cx="46.78" cy="176.57" r="0.5" fill="#7070c8" fill-opacity="0.45"/>
<circle cx="53.98" cy="141.15" r="0.5" fill="#7070c8" fill-opacity="0.45"/>
<circle cx="47.31" cy="153.94" r="0.5" fill="#7070c8" fill-opacity="0.45"/>
<circle cx="53.88" cy="141.72" r="0.5" fill="#7070c8" fill-opacity="0.45"/>
<circle cx="53.72" cy="143.46" r="0.5" fill="#7070c8" fill-opacity="0.45"/>
<circle cx="46.26" cy="166.98" r="0.5" fill="#7070c8" fill-opacity="0.45"/>
<circle cx="51.56" cy="174.10" r="0.5" fill="#7070c8" fill-opacity="0.45"/>
<circle cx="53.20" cy="138.15" r="0.5" fill="#7070c8" fill-opacity="0.45"/>
<circle cx="46.46" cy="154.70" r="0.5" fill="#7070c8" fill-opacity="0.45"/>
<circle cx="45.40" cy="153.50" r="0.5" fill="#7070c8" fill-opacity="0.45"/>
<circle cx="53.60" cy="138.07" r="0.5" fill="#7070c8" fill-opacity="0.45"/>
<circle cx="45.72" cy="142.95" r="0.5" fill="#7070c8" fill-opacity="0.45"/>
<circle cx="52.13" cy="175.14" r="0.5" fill="#7070c8" fill-opacity="0.45"/>
<circle cx="54.00" cy="140.68" r="0.5" fill="#7070c8" fill-opacity="0.45"/>
<circle cx="53.81" cy="162.27" r="0.5" fill="#7070c8" fill-opacity="0.45"/>
<circle cx="46.80" cy="169.13" r="0.5" fill="#7070c8" fill-opacity="0.45"/>
<circle cx="53.09" cy="140.13" r="0.5" fill="#7070c8" fill-opacity="0.45"/>
<circle cx="52.59" cy="144.14" r="0.5" fill="#7070c8" fill-opacity="0.45"/>
<circle cx="53.46" cy="151.00" r="0.5" fill="#7070c8" fill-opacity="0.45"/>
<circle cx="45.47" cy="155.62" r="0.5" fill="#7070c8" fill-opacity="0.45"/>
<linearGradient id="g6" gradientUnits="userSpaceOnUse" x1="0" y1="110.00" x2="0" y2="181.20"><stop offset="0.000" stop-color="#c8c8ee" stop-opacity="0.5"/><stop offset="0.323" stop-color="#a0a0dc" stop-opacity="0.8"/><stop offset="0.393" stop-color="#2c2c88" stop-opacity="1"/><stop offset="0.803" stop-color="#2a2a8c" stop-opacity="1"/><stop offset="0.888" stop-color="#3458b8" stop-opacity="1"/><stop offset="0.944" stop-color="#4a98c8" stop-opacity="1"/><stop offset="1.000" stop-color="#5aa860" stop-opacity="1"/><stop offset="0.958" stop-color="#88b040" stop-opacity="1"/><stop offset="1.000" stop-color="#4a7028" stop-opacity="1"/></linearGradient>
<path d="M49.50,110.50 L50.00,110.50 50.30,132.00 50.80,136.00 51.60,143.00 51.70,153.00 51.40,169.20 51.00,173.20 50.80,181.20 L48.20,181.20 48.00,173.20 47.60,169.20 47.30,153.00 47.40,143.00 48.20,136.00 48.70,132.00 49.00,110.50 Z" fill="url(#g6)"/>
<rect x="48.00" y="180.00" width="3" height="1.6" fill="#2a3a20"/>
<circle cx="122.82" cy="122.80" r="0.5" fill="#8080d0" fill-opacity="0.45"/>
<circle cx="120.86" cy="121.21" r="0.5" fill="#8080d0" fill-opacity="0.45"/>
<circle cx="122.53" cy="124.53" r="0.5" fill="#8080d0" fill-opacity="0.45"/>
<circle cx="121.90" cy="119.29" r="0.5" fill="#8080d0" fill-opacity="0.45"/>
<circle cx="121.30" cy="125.18" r="0.5" fill="#8080d0" fill-opacity="0.45"/>
<circle cx="121.21" cy="111.46" r="0.5" fill="#8080d0" fill-opacity="0.45"/>
<circle cx="122.07" cy="128.57" r="0.5" fill="#8080d0" fill-opacity="0.45"/>
<circle cx="122.09" cy="117.20" r="0.5" fill="#8080d0" fill-opacity="0.45"/>
<circle cx="121.49" cy="116.31" r="0.5" fill="#8080d0" fill-opacity="0.45"/>
<circle cx="119.96" cy="115.57" r="0.5" fill="#8080d0" fill-opacity="0.45"/>
<circle cx="121.36" cy="123.29" r="0.5" fill="#8080d0" fill-opacity="0.45"/>
<circle cx="122.33" cy="118.19" r="0.5" fill="#8080d0" fill-opacity="0.45"/>
<circle cx="121.82" cy="113.76" r="0.5" fill="#8080d0" fill-opacity="0.45"/>
<circle cx="121.95" cy="128.17" r="0.5" fill="#8080d0" fill-opacity="0.45"/>
<circle cx="121.84" cy="120.19" r="0.5" fill="#8080d0" fill-opacity="0.45"/>
<circle cx="122.88" cy="129.93" r="0.5" fill="#8080d0" fill-opacity="0.45"/>
<circle cx="121.85" cy="119.27" r="0.5" fill="#8080d0" fill-opacity="0.45"/>
<circle cx="121.90" cy="112.27" r="0.5" fill="#8080d0" fill-opacity="0.45"/>
<circle cx="121.97" cy="117.17" r="0.5" fill="#8080d0" fill-opacity="0.45"/>
<circle cx="121.84" cy="115.54" r="0.5" fill="#8080d0" fill-opacity="0.45"/>
<circle cx="122.36" cy="121.61" r="0.5" fill="#8080d0" fill-opacity="0.45"/>
<circle cx="120.95" cy="118.55" r="0.5" fill="#8080d0" fill-opacity="0.45"/>
<circle cx="121.02" cy="118.57" r="0.5" fill="#8080d0" fill-opacity="0.45"/>
<circle cx="121.51" cy="117.09" r="0.5" fill="#8080d0" fill-opacity="0.45"/>
<circle cx="121.33" cy="111.71" r="0.5" fill="#8080d0" fill-opacity="0.45"/>
<circle cx="123.15" cy="112.95" r="0.5" fill="#8080d0" fill-opacity="0.45"/>
<circle cx="120.78" cy="120.32" r="0.5" fill="#8080d0" fill-opacity="0.45"/>
<circle cx="120.73" cy="114.71" r="0.5" fill="#8080d0" fill-opacity="0.45"/>
<circle cx="121.61" cy="115.78" r="0.5" fill="#8080d0" fill-opacity="0.45"/>
<circle cx="122.21" cy="119.19" r="0.5" fill="#8080d0" fill-opacity="0.45"/>
<circle cx="122.31" cy="129.10" r="0.5" fill="#8080d0" fill-opacity="0.45"/>
<circle cx="120.61" cy="110.93" r="0.5" fill="#8080d0" fill-opacity="0.45"/>
<circle cx="121.28" cy="111.13" r="0.5" fill="#8080d0" fill-opacity="0.45"/>
<circle cx="120.37" cy="119.73" r="0.5" fill="#8080d0" fill-opacity="0.45"/>
<circle cx="122.20" cy="121.95" r="0.5" fill="#8080d0" fill-opacity="0.45"/>
<circle cx="126.03" cy="175.45" r="0.5" fill="#7070c8" fill-opacity="0.45"/>
<circle cx="119.04" cy="140.72" r="0.5" fill="#7070c8" fill-opacity="0.45"/>
<circle cx="117.25" cy="135.79" r="0.5" fill="#7070c8" fill-opacity="0.45"/>
<circle cx="123.81" cy="164.95" r="0.5" fill="#7070c8" fill-opacity="0.45"/>
<circle cx="117.64" cy="167.78" r="0.5" fill="#7070c8" fill-opacity="0.45"/>
<circle cx="117.99" cy="139.91" r="0.5" fill="#7070c8" fill-opacity="0.45"/>
<circle cx="118.03" cy="143.55" r="0.5" fill="#7070c8" fill-opacity="0.45"/>
<circle cx="125.35" cy="155.05" r="0.5" fill="#7070c8" fill-opacity="0.45"/>
<circle cx="118.85" cy="133.74" r="0.5" fill="#7070c8" fill-opacity="0.45"/>
<circle cx="118.63" cy="176.31" r="0.5" fill="#7070c8" fill-opacity="0.45"/>
<circle cx="119.57" cy="139.45" r="0.5" fill="#7070c8" fill-opacity="0.45"/>
<circle cx="124.30" cy="143.44" r="0.5" fill="#7070c8" fill-opacity="0.45"/>
<circle cx="118.41" cy="144.20" r="0.5" fill="#7070c8" fill-opacity="0.45"/>
<circle cx="119.53" cy="140.02" r="0.5" fill="#7070c8" fill-opacity="0.45"/>
<circle cx="123.74" cy="149.08" r="0.5" fill="#7070c8" fill-opacity="0.45"/>
<circle cx="123.80" cy="137.94" r="0.5" fill="#7070c8" fill-opacity="0.45"/>
<circle cx="125.91" cy="139.67" r="0.5" fill="#7070c8" fill-opacity="0.45"/>
<circle cx="117.86" cy="139.61" r="0.5" fill="#7070c8" fill-opacity="0.45"/>
<circle cx="125.31" cy="164.78" r="0.5" fill="#7070c8" fill-opacity="0.45"/>
<circle cx="125.45" cy="138.14" r="0.5" fill="#7070c8" fill-opacity="0.45"/>
<circle cx="118.36" cy="153.85" r="0.5" fill="#7070c8" fill-opacity="0.45"/>
<circle cx="119.02" cy="138.26" r="0.5" fill="#7070c8" fill-opacity="0.45"/>
<circle cx="123.87" cy="139.34" r="0.5" fill="#7070c8" fill-opacity="0.45"/>
<circle cx="117.36" cy="159.93" r="0.5" fill="#7070c8" fill-opacity="0.45"/>
<circle cx="117.23" cy="152.83" r="0.5" fill="#7070c8" fill-opacity="0.45"/>
<linearGradient id="g7" gradientUnits="userSpaceOnUse" x1="0" y1="110.00" x2="0" y2="181.20"><stop offset="0.000" stop-color="#c8c8ee" stop-opacity="0.5"/><stop offset="0.183" stop-color="#a0a0dc" stop-opacity="0.8"/><stop offset="0.253" stop-color="#2c2c88" stop-opacity="1"/><stop offset="0.365" stop-color="#2a36a4" stop-opacity="1"/><stop offset="0.803" stop-color="#3050bc" stop-opacity="1"/><stop offset="0.888" stop-color="#4a90c0" stop-opacity="1"/><stop offset="0.944" stop-color="#80b048" stop-opacity="1"/><stop offset="1.000" stop-color="#4a7028" stop-opacity="1"/></linearGradient>
<path d="M121.60,110.50 L122.10,110.50 122.30,122.00 122.70,126.00 123.20,131.00 124.00,140.00 124.00,169.20 123.30,177.20 123.00,181.20 L120.20,181.20 119.90,177.20 119.20,169.20 119.20,140.00 120.00,131.00 120.50,126.00 120.90,122.00 121.10,110.50 Z" fill="url(#g7)"/>
<linearGradient id="g8" gradientUnits="userSpaceOnUse" x1="0" y1="128.00" x2="0" y2="181.20"><stop offset="0.000" stop-color="#3a60c8" stop-opacity="0"/><stop offset="0.200" stop-color="#3a64c8" stop-opacity="1"/><stop offset="0.550" stop-color="#4a88d0" stop-opacity="1"/><stop offset="0.820" stop-color="#50a0b8" stop-opacity="1"/><stop offset="0.920" stop-color="#80b048" stop-opacity="1"/><stop offset="1.000" stop-color="#5a8a30" stop-opacity="1"/></linearGradient>
<path d="M121.60,134.00 L121.90,134.00 122.70,142.00 122.80,171.20 122.50,181.20 L120.70,181.20 120.40,171.20 120.50,142.00 121.30,134.00 Z" fill="url(#g8)"/>
<rect x="120.10" y="180.00" width="3" height="1.6" fill="#2a3a20"/>
<circle cx="194.50" cy="114.53" r="0.5" fill="#8080d0" fill-opacity="0.45"/>
<circle cx="194.87" cy="121.32" r="0.5" fill="#8080d0" fill-opacity="0.45"/>
<circle cx="196.08" cy="114.40" r="0.5" fill="#8080d0" fill-opacity="0.45"/>
<circle cx="195.06" cy="111.93" r="0.5" fill="#8080d0" fill-opacity="0.45"/>
<circle cx="194.72" cy="135.20" r="0.5" fill="#8080d0" fill-opacity="0.45"/>
<circle cx="194.27" cy="134.80" r="0.5" fill="#8080d0" fill-opacity="0.45"/>
<circle cx="192.43" cy="136.12" r="0.5" fill="#8080d0" fill-opacity="0.45"/>
<circle cx="195.05" cy="119.55" r="0.5" fill="#8080d0" fill-opacity="0.45"/>
<circle cx="195.79" cy="131.02" r="0.5" fill="#8080d0" fill-opacity="0.45"/>
<circle cx="194.20" cy="111.38" r="0.5" fill="#8080d0" fill-opacity="0.45"/>
<circle cx="194.00" cy="120.78" r="0.5" fill="#8080d0" fill-opacity="0.45"/>
<circle cx="194.52" cy="119.62" r="0.5" fill="#8080d0" fill-opacity="0.45"/>
<circle cx="194.54" cy="118.19" r="0.5" fill="#8080d0" fill-opacity="0.45"/>
<circle cx="194.80" cy="120.17" r="0.5" fill="#8080d0" fill-opacity="0.45"/>
<circle cx="194.41" cy="137.02" r="0.5" fill="#8080d0" fill-opacity="0.45"/>
<circle cx="193.81" cy="116.20" r="0.5" fill="#8080d0" fill-opacity="0.45"/>
<circle cx="195.37" cy="133.11" r="0.5" fill="#8080d0" fill-opacity="0.45"/>
<circle cx="195.15" cy="122.39" r="0.5" fill="#8080d0" fill-opacity="0.45"/>
<circle cx="194.71" cy="120.75" r="0.5" fill="#8080d0" fill-opacity="0.45"/>
<circle cx="194.70" cy="135.79" r="0.5" fill="#8080d0" fill-opacity="0.45"/>
<circle cx="195.03" cy="135.17" r="0.5" fill="#8080d0" fill-opacity="0.45"/>
<circle cx="193.57" cy="111.33" r="0.5" fill="#8080d0" fill-opacity="0.45"/>
<circle cx="195.08" cy="131.58" r="0.5" fill="#8080d0" fill-opacity="0.45"/>
<circle cx="194.71" cy="111.62" r="0.5" fill="#8080d0" fill-opacity="0.45"/>
<circle cx="194.55" cy="135.80" r="0.5" fill="#8080d0" fill-opacity="0.45"/>
<circle cx="194.48" cy="117.57" r="0.5" fill="#8080d0" fill-opacity="0.45"/>
<circle cx="193.22" cy="119.82" r="0.5" fill="#8080d0" fill-opacity="0.45"/>
<circle cx="195.30" cy="117.99" r="0.5" fill="#8080d0" fill-opacity="0.45"/>
<circle cx="194.28" cy="117.71" r="0.5" fill="#8080d0" fill-opacity="0.45"/>
<circle cx="194.30" cy="130.21" r="0.5" fill="#8080d0" fill-opacity="0.45"/>
<circle cx="194.94" cy="110.60" r="0.5" fill="#8080d0" fill-opacity="0.45"/>
<circle cx="195.24" cy="131.28" r="0.5" fill="#8080d0" fill-opacity="0.45"/>
<circle cx="194.07" cy="136.44" r="0.5" fill="#8080d0" fill-opacity="0.45"/>
<circle cx="194.57" cy="111.17" r="0.5" fill="#8080d0" fill-opacity="0.45"/>
<circle cx="195.18" cy="136.81" r="0.5" fill="#8080d0" fill-opacity="0.45"/>
<circle cx="198.47" cy="177.21" r="0.5" fill="#7070c8" fill-opacity="0.45"/>
<circle cx="196.83" cy="175.47" r="0.5" fill="#7070c8" fill-opacity="0.45"/>
<circle cx="190.49" cy="157.45" r="0.5" fill="#7070c8" fill-opacity="0.45"/>
<circle cx="190.98" cy="167.90" r="0.5" fill="#7070c8" fill-opacity="0.45"/>
<circle cx="197.65" cy="150.16" r="0.5" fill="#7070c8" fill-opacity="0.45"/>
<circle cx="191.22" cy="169.86" r="0.5" fill="#7070c8" fill-opacity="0.45"/>
<circle cx="191.88" cy="152.92" r="0.5" fill="#7070c8" fill-opacity="0.45"/>
<circle cx="191.30" cy="138.80" r="0.5" fill="#7070c8" fill-opacity="0.45"/>
<circle cx="190.05" cy="159.53" r="0.5" fill="#7070c8" fill-opacity="0.45"/>
<circle cx="191.84" cy="174.17" r="0.5" fill="#7070c8" fill-opacity="0.45"/>
<circle cx="191.45" cy="139.63" r="0.5" fill="#7070c8" fill-opacity="0.45"/>
<circle cx="196.93" cy="178.70" r="0.5" fill="#7070c8" fill-opacity="0.45"/>
<circle cx="198.05" cy="141.74" r="0.5" fill="#7070c8" fill-opacity="0.45"/>
<circle cx="190.55" cy="165.12" r="0.5" fill="#7070c8" fill-opacity="0.45"/>
<circle cx="197.92" cy="148.70" r="0.5" fill="#7070c8" fill-opacity="0.45"/>
<circle cx="197.00" cy="152.11" r="0.5" fill="#7070c8" fill-opacity="0.45"/>
<circle cx="191.91" cy="146.69" r="0.5" fill="#7070c8" fill-opacity="0.45"/>
<circle cx="191.68" cy="148.15" r="0.5" fill="#7070c8" fill-opacity="0.45"/>
<circle cx="191.23" cy="153.11" r="0.5" fill="#7070c8" fill-opacity="0.45"/>
<circle cx="190.87" cy="146.00" r="0.5" fill="#7070c8" fill-opacity="0.45"/>
<circle cx="192.49" cy="178.81" r="0.5" fill="#7070c8" fill-opacity="0.45"/>
<circle cx="190.40" cy="174.14" r="0.5" fill="#7070c8" fill-opacity="0.45"/>
<circle cx="190.31" cy="175.50" r="0.5" fill="#7070c8" fill-opacity="0.45"/>
<circle cx="192.03" cy="146.06" r="0.5" fill="#7070c8" fill-opacity="0.45"/>
<circle cx="190.17" cy="178.03" r="0.5" fill="#7070c8" fill-opacity="0.45"/>
<linearGradient id="g9" gradientUnits="userSpaceOnUse" x1="0" y1="110.00" x2="0" y2="181.20"><stop offset="0.000" stop-color="#c8c8ee" stop-opacity="0.5"/><stop offset="0.295" stop-color="#a0a0dc" stop-opacity="0.8"/><stop offset="0.365" stop-color="#2c2c88" stop-opacity="1"/><stop offset="0.478" stop-color="#2a36a4" stop-opacity="1"/><stop offset="0.803" stop-color="#3050bc" stop-opacity="1"/><stop offset="0.888" stop-color="#4a90c0" stop-opacity="1"/><stop offset="0.944" stop-color="#80b048" stop-opacity="1"/><stop offset="1.000" stop-color="#4a7028" stop-opacity="1"/></linearGradient>
<path d="M194.50,110.50 L195.00,110.50 195.20,130.00 195.60,134.00 196.10,139.00 196.90,148.00 196.90,169.20 196.20,177.20 195.90,181.20 L193.10,181.20 192.80,177.20 192.10,169.20 192.10,148.00 192.90,139.00 193.40,134.00 193.80,130.00 194.00,110.50 Z" fill="url(#g9)"/>
<linearGradient id="g10" gradientUnits="userSpaceOnUse" x1="0" y1="136.00" x2="0" y2="181.20"><stop offset="0.000" stop-color="#3a60c8" stop-opacity="0"/><stop offset="0.200" stop-color="#3a64c8" stop-opacity="1"/><stop offset="0.550" stop-color="#4a88d0" stop-opacity="1"/><stop offset="0.820" stop-color="#50a0b8" stop-opacity="1"/><stop offset="0.920" stop-color="#80b048" stop-opacity="1"/><stop offset="1.000" stop-color="#5a8a30" stop-opacity="1"/></linearGradient>
<path d="M194.50,142.00 L194.80,142.00 195.60,150.00 195.70,171.20 195.40,181.20 L193.60,181.20 193.30,171.20 193.40,150.00 194.20,142.00 Z" fill="url(#g10)"/>
<rect x="193.00" y="180.00" width="3" height="1.6" fill="#2a3a20"/>
<circle cx="111.52" cy="99.33" r="0.55" fill="#8080d0" fill-opacity="0.35"/>
<circle cx="113.16" cy="95.73" r="0.55" fill="#8080d0" fill-opacity="0.35"/>
<circle cx="116.05" cy="87.87" r="0.55" fill="#8080d0" fill-opacity="0.35"/>
<circle cx="117.65" cy="97.49" r="0.55" fill="#8080d0" fill-opacity="0.35"/>
<circle cx="113.72" cy="93.56" r="0.55" fill="#8080d0" fill-opacity="0.35"/>
<circle cx="114.06" cy="96.22" r="0.55" fill="#8080d0" fill-opacity="0.35"/>
<circle cx="115.55" cy="97.21" r="0.55" fill="#8080d0" fill-opacity="0.35"/>
<circle cx="112.06" cy="92.45" r="0.55" fill="#8080d0" fill-opacity="0.35"/>
<circle cx="115.11" cy="95.43" r="0.55" fill="#8080d0" fill-opacity="0.35"/>
<circle cx="113.24" cy="99.00" r="0.55" fill="#8080d0" fill-opacity="0.35"/>
<circle cx="115.86" cy="97.38" r="0.55" fill="#8080d0" fill-opacity="0.35"/>
<circle cx="116.28" cy="100.12" r="0.55" fill="#8080d0" fill-opacity="0.35"/>
<circle cx="114.14" cy="94.68" r="0.55" fill="#8080d0" fill-opacity="0.35"/>
<circle cx="117.02" cy="96.79" r="0.55" fill="#8080d0" fill-opacity="0.35"/>
<circle cx="111.61" cy="93.67" r="0.55" fill="#8080d0" fill-opacity="0.35"/>
<circle cx="116.26" cy="95.97" r="0.55" fill="#8080d0" fill-opacity="0.35"/>
<circle cx="114.14" cy="92.10" r="0.55" fill="#8080d0" fill-opacity="0.35"/>
<circle cx="114.55" cy="97.52" r="0.55" fill="#8080d0" fill-opacity="0.35"/>
<circle cx="117.07" cy="94.25" r="0.55" fill="#8080d0" fill-opacity="0.35"/>
<circle cx="112.85" cy="93.86" r="0.55" fill="#8080d0" fill-opacity="0.35"/>
<circle cx="110.68" cy="98.00" r="0.55" fill="#8080d0" fill-opacity="0.35"/>
<circle cx="117.38" cy="94.94" r="0.55" fill="#8080d0" fill-opacity="0.35"/>
<circle cx="116.31" cy="99.58" r="0.55" fill="#8080d0" fill-opacity="0.35"/>
<circle cx="115.08" cy="95.31" r="0.55" fill="#8080d0" fill-opacity="0.35"/>
<circle cx="117.14" cy="93.17" r="0.55" fill="#8080d0" fill-opacity="0.35"/>
<circle cx="189.31" cy="87.39" r="0.55" fill="#8080d0" fill-opacity="0.35"/>
<circle cx="190.47" cy="88.27" r="0.55" fill="#8080d0" fill-opacity="0.35"/>
<circle cx="188.27" cy="92.74" r="0.55" fill="#8080d0" fill-opacity="0.35"/>
<circle cx="183.93" cy="89.72" r="0.55" fill="#8080d0" fill-opacity="0.35"/>
<circle cx="189.09" cy="90.84" r="0.55" fill="#8080d0" fill-opacity="0.35"/>
<circle cx="185.92" cy="88.66" r="0.55" fill="#8080d0" fill-opacity="0.35"/>
<circle cx="186.32" cy="91.92" r="0.55" fill="#8080d0" fill-opacity="0.35"/>
<circle cx="187.24" cy="97.94" r="0.55" fill="#8080d0" fill-opacity="0.35"/>
<circle cx="189.28" cy="90.92" r="0.55" fill="#8080d0" fill-opacity="0.35"/>
<circle cx="182.59" cy="92.54" r="0.55" fill="#8080d0" fill-opacity="0.35"/>
<circle cx="189.95" cy="91.31" r="0.55" fill="#8080d0" fill-opacity="0.35"/>
<circle cx="193.03" cy="100.55" r="0.55" fill="#8080d0" fill-opacity="0.35"/>
<circle cx="191.40" cy="91.12" r="0.55" fill="#8080d0" fill-opacity="0.35"/>
<circle cx="194.47" cy="95.76" r="0.55" fill="#8080d0" fill-opacity="0.35"/>
<circle cx="183.05" cy="99.01" r="0.55" fill="#8080d0" fill-opacity="0.35"/>
<circle cx="183.93" cy="85.60" r="0.55" fill="#8080d0" fill-opacity="0.35"/>
<circle cx="190.81" cy="99.42" r="0.55" fill="#8080d0" fill-opacity="0.35"/>
<circle cx="188.53" cy="97.01" r="0.55" fill="#8080d0" fill-opacity="0.35"/>
<circle cx="191.21" cy="84.27" r="0.55" fill="#8080d0" fill-opacity="0.35"/>
<circle cx="188.86" cy="95.20" r="0.55" fill="#8080d0" fill-opacity="0.35"/>
<circle cx="185.07" cy="95.56" r="0.55" fill="#8080d0" fill-opacity="0.35"/>
<circle cx="186.86" cy="93.71" r="0.55" fill="#8080d0" fill-opacity="0.35"/>
<circle cx="188.09" cy="100.03" r="0.55" fill="#8080d0" fill-opacity="0.35"/>
<circle cx="188.69" cy="91.13" r="0.55" fill="#8080d0" fill-opacity="0.35"/>
<circle cx="183.33" cy="88.79" r="0.55" fill="#8080d0" fill-opacity="0.35"/>
<circle cx="119.64" cy="168.36" r="0.55" fill="#8080d0" fill-opacity="0.35"/>
<circle cx="117.50" cy="169.74" r="0.55" fill="#8080d0" fill-opacity="0.35"/>
<circle cx="111.66" cy="165.70" r="0.55" fill="#8080d0" fill-opacity="0.35"/>
<circle cx="114.10" cy="169.94" r="0.55" fill="#8080d0" fill-opacity="0.35"/>
<circle cx="112.71" cy="165.43" r="0.55" fill="#8080d0" fill-opacity="0.35"/>
<circle cx="113.53" cy="164.26" r="0.55" fill="#8080d0" fill-opacity="0.35"/>
<circle cx="114.50" cy="167.25" r="0.55" fill="#8080d0" fill-opacity="0.35"/>
<circle cx="112.87" cy="164.64" r="0.55" fill="#8080d0" fill-opacity="0.35"/>
<circle cx="115.39" cy="172.07" r="0.55" fill="#8080d0" fill-opacity="0.35"/>
<circle cx="115.52" cy="163.74" r="0.55" fill="#8080d0" fill-opacity="0.35"/>
<circle cx="116.21" cy="170.07" r="0.55" fill="#8080d0" fill-opacity="0.35"/>
<circle cx="116.03" cy="167.98" r="0.55" fill="#8080d0" fill-opacity="0.35"/>
<circle cx="114.01" cy="167.56" r="0.55" fill="#8080d0" fill-opacity="0.35"/>
<circle cx="112.21" cy="168.28" r="0.55" fill="#8080d0" fill-opacity="0.35"/>
<circle cx="118.44" cy="168.08" r="0.55" fill="#8080d0" fill-opacity="0.35"/>
<circle cx="118.53" cy="169.41" r="0.55" fill="#8080d0" fill-opacity="0.35"/>
<circle cx="115.52" cy="163.46" r="0.55" fill="#8080d0" fill-opacity="0.35"/>
<circle cx="117.79" cy="168.19" r="0.55" fill="#8080d0" fill-opacity="0.35"/>
<circle cx="110.58" cy="172.11" r="0.55" fill="#8080d0" fill-opacity="0.35"/>
<circle cx="118.23" cy="171.47" r="0.55" fill="#8080d0" fill-opacity="0.35"/>
<circle cx="192.87" cy="164.80" r="0.55" fill="#8080d0" fill-opacity="0.35"/>
<circle cx="188.78" cy="161.99" r="0.55" fill="#8080d0" fill-opacity="0.35"/>
<circle cx="191.47" cy="164.33" r="0.55" fill="#8080d0" fill-opacity="0.35"/>
<circle cx="194.43" cy="162.01" r="0.55" fill="#8080d0" fill-opacity="0.35"/>
<circle cx="190.69" cy="172.59" r="0.55" fill="#8080d0" fill-opacity="0.35"/>
<circle cx="189.00" cy="164.22" r="0.55" fill="#8080d0" fill-opacity="0.35"/>
<circle cx="185.01" cy="171.77" r="0.55" fill="#8080d0" fill-opacity="0.35"/>
<circle cx="191.47" cy="173.95" r="0.55" fill="#8080d0" fill-opacity="0.35"/>
<circle cx="187.14" cy="174.08" r="0.55" fill="#8080d0" fill-opacity="0.35"/>
<circle cx="190.20" cy="169.63" r="0.55" fill="#8080d0" fill-opacity="0.35"/>
<circle cx="189.80" cy="163.35" r="0.55" fill="#8080d0" fill-opacity="0.35"/>
<circle cx="187.71" cy="170.92" r="0.55" fill="#8080d0" fill-opacity="0.35"/>
<circle cx="187.65" cy="166.24" r="0.55" fill="#8080d0" fill-opacity="0.35"/>
<circle cx="188.74" cy="167.70" r="0.55" fill="#8080d0" fill-opacity="0.35"/>
<circle cx="192.17" cy="162.06" r="0.55" fill="#8080d0" fill-opacity="0.35"/>
<circle cx="189.44" cy="163.14" r="0.55" fill="#8080d0" fill-opacity="0.35"/>
<circle cx="188.32" cy="162.59" r="0.55" fill="#8080d0" fill-opacity="0.35"/>
<circle cx="183.81" cy="163.64" r="0.55" fill="#8080d0" fill-opacity="0.35"/>
<circle cx="184.12" cy="172.83" r="0.55" fill="#8080d0" fill-opacity="0.35"/>
<circle cx="184.28" cy="162.76" r="0.55" fill="#8080d0" fill-opacity="0.35"/>
<circle cx="76.02" cy="93.17" r="0.55" fill="#a0a0d0" fill-opacity="0.3"/>
<circle cx="77.61" cy="93.68" r="0.55" fill="#a0a0d0" fill-opacity="0.3"/>
<circle cx="73.39" cy="96.00" r="0.55" fill="#a0a0d0" fill-opacity="0.3"/>
<circle cx="75.08" cy="99.88" r="0.55" fill="#a0a0d0" fill-opacity="0.3"/>
<circle cx="74.25" cy="92.92" r="0.55" fill="#a0a0d0" fill-opacity="0.3"/>
<circle cx="75.65" cy="91.65" r="0.55" fill="#a0a0d0" fill-opacity="0.3"/>
<circle cx="76.60" cy="96.76" r="0.55" fill="#a0a0d0" fill-opacity="0.3"/>
<circle cx="78.15" cy="94.91" r="0.55" fill="#a0a0d0" fill-opacity="0.3"/>
<circle cx="146.11" cy="105.64" r="0.5" fill="#7070c8" fill-opacity="0.4"/>
<circle cx="134.10" cy="89.86" r="0.5" fill="#7070c8" fill-opacity="0.4"/>
<circle cx="143.51" cy="91.86" r="0.5" fill="#7070c8" fill-opacity="0.4"/>
<circle cx="151.99" cy="96.54" r="0.5" fill="#7070c8" fill-opacity="0.4"/>
<circle cx="151.53" cy="101.06" r="0.5" fill="#7070c8" fill-opacity="0.4"/>
<circle cx="138.09" cy="95.08" r="0.5" fill="#7070c8" fill-opacity="0.4"/>
<circle cx="152.29" cy="92.06" r="0.5" fill="#7070c8" fill-opacity="0.4"/>
<circle cx="142.04" cy="90.73" r="0.5" fill="#7070c8" fill-opacity="0.4"/>
<circle cx="155.55" cy="96.61" r="0.5" fill="#7070c8" fill-opacity="0.4"/>
<circle cx="150.77" cy="98.29" r="0.5" fill="#7070c8" fill-opacity="0.4"/>
<circle cx="142.44" cy="99.47" r="0.5" fill="#7070c8" fill-opacity="0.4"/>
<circle cx="137.31" cy="91.16" r="0.5" fill="#7070c8" fill-opacity="0.4"/>
<circle cx="148.88" cy="102.13" r="0.5" fill="#7070c8" fill-opacity="0.4"/>
<circle cx="152.16" cy="100.68" r="0.5" fill="#7070c8" fill-opacity="0.4"/>
<circle cx="151.55" cy="93.91" r="0.5" fill="#7070c8" fill-opacity="0.4"/>
<circle cx="152.81" cy="99.03" r="0.5" fill="#7070c8" fill-opacity="0.4"/>
<circle cx="139.73" cy="89.46" r="0.5" fill="#7070c8" fill-opacity="0.4"/>
<circle cx="137.79" cy="100.36" r="0.5" fill="#7070c8" fill-opacity="0.4"/>
<circle cx="146.38" cy="73.77" r="0.5" fill="#9090d8" fill-opacity="0.3"/>
<circle cx="146.63" cy="75.67" r="0.5" fill="#9090d8" fill-opacity="0.3"/>
<circle cx="145.13" cy="78.39" r="0.5" fill="#9090d8" fill-opacity="0.3"/>
<circle cx="148.15" cy="67.05" r="0.5" fill="#9090d8" fill-opacity="0.3"/>
<circle cx="146.28" cy="67.82" r="0.5" fill="#9090d8" fill-opacity="0.3"/>
<circle cx="145.27" cy="87.59" r="0.5" fill="#9090d8" fill-opacity="0.3"/>
<circle cx="144.90" cy="83.13" r="0.5" fill="#9090d8" fill-opacity="0.3"/>
<circle cx="146.10" cy="87.26" r="0.5" fill="#9090d8" fill-opacity="0.3"/>
<circle cx="146.44" cy="75.93" r="0.5" fill="#9090d8" fill-opacity="0.3"/>
<circle cx="146.17" cy="66.96" r="0.5" fill="#9090d8" fill-opacity="0.3"/>
<radialGradient id="r11" cx="0.45" cy="0.55" r="0.5"><stop offset="0" stop-color="#4a68c8"/><stop offset="0.35" stop-color="#3448b0"/><stop offset="0.65" stop-color="#26268c"/><stop offset="0.82" stop-color="#3030a0" stop-opacity="0.75"/><stop offset="1" stop-color="#8080d0" stop-opacity="0"/></radialGradient>
<ellipse cx="146.40" cy="95.60" rx="6.20" ry="5.10" fill="url(#r11)" fill-opacity="1.0" transform="rotate(-45 146.40 95.60)"/>
<circle cx="224.20" cy="99.89" r="0.5" fill="#7070c8" fill-opacity="0.4"/>
<circle cx="208.38" cy="95.03" r="0.5" fill="#7070c8" fill-opacity="0.4"/>
<circle cx="215.27" cy="91.39" r="0.5" fill="#7070c8" fill-opacity="0.4"/>
<circle cx="216.55" cy="101.20" r="0.5" fill="#7070c8" fill-opacity="0.4"/>
<circle cx="215.14" cy="105.67" r="0.5" fill="#7070c8" fill-opacity="0.4"/>
<circle cx="221.21" cy="89.12" r="0.5" fill="#7070c8" fill-opacity="0.4"/>
<circle cx="216.53" cy="85.08" r="0.5" fill="#7070c8" fill-opacity="0.4"/>
<circle cx="219.32" cy="90.76" r="0.5" fill="#7070c8" fill-opacity="0.4"/>
<circle cx="213.68" cy="96.39" r="0.5" fill="#7070c8" fill-opacity="0.4"/>
<circle cx="221.05" cy="103.22" r="0.5" fill="#7070c8" fill-opacity="0.4"/>
<circle cx="224.12" cy="98.16" r="0.5" fill="#7070c8" fill-opacity="0.4"/>
<circle cx="215.98" cy="99.95" r="0.5" fill="#7070c8" fill-opacity="0.4"/>
<circle cx="219.48" cy="88.91" r="0.5" fill="#7070c8" fill-opacity="0.4"/>
<circle cx="216.33" cy="85.48" r="0.5" fill="#7070c8" fill-opacity="0.4"/>
<circle cx="218.51" cy="102.99" r="0.5" fill="#7070c8" fill-opacity="0.4"/>
<circle cx="221.22" cy="90.02" r="0.5" fill="#7070c8" fill-opacity="0.4"/>
<circle cx="213.27" cy="94.70" r="0.5" fill="#7070c8" fill-opacity="0.4"/>
<circle cx="230.88" cy="93.45" r="0.5" fill="#7070c8" fill-opacity="0.4"/>
<circle cx="220.14" cy="88.05" r="0.5" fill="#9090d8" fill-opacity="0.3"/>
<circle cx="222.52" cy="82.41" r="0.5" fill="#9090d8" fill-opacity="0.3"/>
<circle cx="219.72" cy="66.67" r="0.5" fill="#9090d8" fill-opacity="0.3"/>
<circle cx="221.97" cy="71.24" r="0.5" fill="#9090d8" fill-opacity="0.3"/>
<circle cx="218.06" cy="80.84" r="0.5" fill="#9090d8" fill-opacity="0.3"/>
<circle cx="222.24" cy="82.90" r="0.5" fill="#9090d8" fill-opacity="0.3"/>
<circle cx="221.27" cy="72.46" r="0.5" fill="#9090d8" fill-opacity="0.3"/>
<circle cx="218.34" cy="73.10" r="0.5" fill="#9090d8" fill-opacity="0.3"/>
<circle cx="221.17" cy="69.09" r="0.5" fill="#9090d8" fill-opacity="0.3"/>
<circle cx="219.28" cy="72.35" r="0.5" fill="#9090d8" fill-opacity="0.3"/>
<radialGradient id="r12" cx="0.45" cy="0.55" r="0.5"><stop offset="0" stop-color="#4a68c8"/><stop offset="0.35" stop-color="#3448b0"/><stop offset="0.65" stop-color="#26268c"/><stop offset="0.82" stop-color="#3030a0" stop-opacity="0.75"/><stop offset="1" stop-color="#8080d0" stop-opacity="0"/></radialGradient>
<ellipse cx="219.50" cy="95.40" rx="6.40" ry="5.20" fill="url(#r12)" fill-opacity="1.0" transform="rotate(-45 219.50 95.40)"/>
<circle cx="154.80" cy="160.39" r="0.5" fill="#7070c8" fill-opacity="0.4"/>
<circle cx="138.73" cy="165.46" r="0.5" fill="#7070c8" fill-opacity="0.4"/>
<circle cx="144.09" cy="174.47" r="0.5" fill="#7070c8" fill-opacity="0.4"/>
<circle cx="157.60" cy="173.32" r="0.5" fill="#7070c8" fill-opacity="0.4"/>
<circle cx="152.56" cy="165.63" r="0.5" fill="#7070c8" fill-opacity="0.4"/>
<circle cx="152.27" cy="172.16" r="0.5" fill="#7070c8" fill-opacity="0.4"/>
<circle cx="153.61" cy="165.92" r="0.5" fill="#7070c8" fill-opacity="0.4"/>
<circle cx="154.88" cy="169.81" r="0.5" fill="#7070c8" fill-opacity="0.4"/>
<circle cx="154.91" cy="170.39" r="0.5" fill="#7070c8" fill-opacity="0.4"/>
<circle cx="142.84" cy="159.20" r="0.5" fill="#7070c8" fill-opacity="0.4"/>
<circle cx="145.83" cy="159.07" r="0.5" fill="#7070c8" fill-opacity="0.4"/>
<circle cx="141.20" cy="173.92" r="0.5" fill="#7070c8" fill-opacity="0.4"/>
<circle cx="150.98" cy="161.00" r="0.5" fill="#7070c8" fill-opacity="0.4"/>
<circle cx="160.27" cy="173.46" r="0.5" fill="#7070c8" fill-opacity="0.4"/>
<circle cx="157.19" cy="159.25" r="0.5" fill="#7070c8" fill-opacity="0.4"/>
<circle cx="155.93" cy="174.58" r="0.5" fill="#7070c8" fill-opacity="0.4"/>
<circle cx="148.74" cy="174.18" r="0.5" fill="#7070c8" fill-opacity="0.4"/>
<circle cx="150.79" cy="163.95" r="0.5" fill="#7070c8" fill-opacity="0.4"/>
<circle cx="147.61" cy="142.62" r="0.5" fill="#9090d8" fill-opacity="0.3"/>
<circle cx="144.83" cy="147.07" r="0.5" fill="#9090d8" fill-opacity="0.3"/>
<circle cx="146.64" cy="159.35" r="0.5" fill="#9090d8" fill-opacity="0.3"/>
<circle cx="147.47" cy="144.18" r="0.5" fill="#9090d8" fill-opacity="0.3"/>
<circle cx="147.17" cy="151.85" r="0.5" fill="#9090d8" fill-opacity="0.3"/>
<circle cx="148.06" cy="161.12" r="0.5" fill="#9090d8" fill-opacity="0.3"/>
<circle cx="146.75" cy="145.14" r="0.5" fill="#9090d8" fill-opacity="0.3"/>
<circle cx="148.02" cy="153.14" r="0.5" fill="#9090d8" fill-opacity="0.3"/>
<circle cx="145.14" cy="150.01" r="0.5" fill="#9090d8" fill-opacity="0.3"/>
<circle cx="150.29" cy="142.02" r="0.5" fill="#9090d8" fill-opacity="0.3"/>
<radialGradient id="r13" cx="0.5" cy="0.5" r="0.5"><stop offset="0" stop-color="#3a40a8"/><stop offset="0.5" stop-color="#34349c"/><stop offset="0.75" stop-color="#4040a8" stop-opacity="0.8"/><stop offset="1" stop-color="#8080d0" stop-opacity="0"/></radialGradient>
<ellipse cx="146.80" cy="168.60" rx="6.80" ry="5.80" fill="url(#r13)" fill-opacity="0.9" transform="rotate(-55 146.80 168.60)"/>
<circle cx="146.37" cy="168.74" r="0.55" fill="#2a2a90" fill-opacity="0.6"/>
<circle cx="146.36" cy="171.56" r="0.55" fill="#2a2a90" fill-opacity="0.6"/>
<circle cx="145.24" cy="167.04" r="0.55" fill="#2a2a90" fill-opacity="0.6"/>
<circle cx="143.87" cy="167.80" r="0.55" fill="#2a2a90" fill-opacity="0.6"/>
<circle cx="150.73" cy="170.06" r="0.55" fill="#2a2a90" fill-opacity="0.6"/>
<circle cx="150.92" cy="166.48" r="0.55" fill="#2a2a90" fill-opacity="0.6"/>
<circle cx="146.85" cy="168.60" r="0.55" fill="#2a2a90" fill-opacity="0.6"/>
<circle cx="150.56" cy="169.56" r="0.55" fill="#2a2a90" fill-opacity="0.6"/>
<circle cx="146.86" cy="168.49" r="0.55" fill="#2a2a90" fill-opacity="0.6"/>
<circle cx="144.98" cy="171.48" r="0.55" fill="#2a2a90" fill-opacity="0.6"/>
<circle cx="145.98" cy="167.42" r="0.55" fill="#2a2a90" fill-opacity="0.6"/>
<circle cx="145.33" cy="170.83" r="0.55" fill="#2a2a90" fill-opacity="0.6"/>
<circle cx="146.14" cy="166.82" r="0.55" fill="#2a2a90" fill-opacity="0.6"/>
<circle cx="147.51" cy="166.44" r="0.55" fill="#2a2a90" fill-opacity="0.6"/>
<circle cx="150.21" cy="169.82" r="0.55" fill="#2a2a90" fill-opacity="0.6"/>
<circle cx="146.12" cy="169.58" r="0.55" fill="#2a2a90" fill-opacity="0.6"/>
<circle cx="145.95" cy="168.77" r="0.55" fill="#2a2a90" fill-opacity="0.6"/>
<circle cx="144.54" cy="165.77" r="0.55" fill="#2a2a90" fill-opacity="0.6"/>
<circle cx="144.69" cy="165.98" r="0.55" fill="#2a2a90" fill-opacity="0.6"/>
<circle cx="147.32" cy="171.19" r="0.55" fill="#2a2a90" fill-opacity="0.6"/>
<circle cx="146.60" cy="173.43" r="0.55" fill="#2a2a90" fill-opacity="0.6"/>
<circle cx="151.12" cy="166.23" r="0.55" fill="#2a2a90" fill-opacity="0.6"/>
<circle cx="148.05" cy="167.24" r="0.55" fill="#2a2a90" fill-opacity="0.6"/>
<circle cx="150.04" cy="171.40" r="0.55" fill="#2a2a90" fill-opacity="0.6"/>
<circle cx="145.16" cy="170.92" r="0.55" fill="#2a2a90" fill-opacity="0.6"/>
<circle cx="146.76" cy="166.73" r="0.55" fill="#2a2a90" fill-opacity="0.6"/>
<circle cx="145.39" cy="171.87" r="0.55" fill="#2a2a90" fill-opacity="0.6"/>
<circle cx="143.79" cy="166.33" r="0.55" fill="#2a2a90" fill-opacity="0.6"/>
<circle cx="144.44" cy="168.93" r="0.55" fill="#2a2a90" fill-opacity="0.6"/>
<circle cx="147.30" cy="169.81" r="0.55" fill="#2a2a90" fill-opacity="0.6"/>
<circle cx="224.74" cy="161.73" r="0.5" fill="#7070c8" fill-opacity="0.4"/>
<circle cx="225.22" cy="177.54" r="0.5" fill="#7070c8" fill-opacity="0.4"/>
<circle cx="212.69" cy="170.77" r="0.5" fill="#7070c8" fill-opacity="0.4"/>
<circle cx="227.62" cy="175.61" r="0.5" fill="#7070c8" fill-opacity="0.4"/>
<circle cx="210.81" cy="170.28" r="0.5" fill="#7070c8" fill-opacity="0.4"/>
<circle cx="222.19" cy="175.00" r="0.5" fill="#7070c8" fill-opacity="0.4"/>
<circle cx="216.45" cy="175.35" r="0.5" fill="#7070c8" fill-opacity="0.4"/>
<circle cx="227.34" cy="178.38" r="0.5" fill="#7070c8" fill-opacity="0.4"/>
<circle cx="222.66" cy="172.84" r="0.5" fill="#7070c8" fill-opacity="0.4"/>
<circle cx="209.15" cy="167.44" r="0.5" fill="#7070c8" fill-opacity="0.4"/>
<circle cx="223.20" cy="173.84" r="0.5" fill="#7070c8" fill-opacity="0.4"/>
<circle cx="227.81" cy="167.48" r="0.5" fill="#7070c8" fill-opacity="0.4"/>
<circle cx="217.15" cy="156.09" r="0.5" fill="#7070c8" fill-opacity="0.4"/>
<circle cx="229.65" cy="174.97" r="0.5" fill="#7070c8" fill-opacity="0.4"/>
<circle cx="208.67" cy="176.30" r="0.5" fill="#7070c8" fill-opacity="0.4"/>
<circle cx="218.47" cy="162.91" r="0.5" fill="#7070c8" fill-opacity="0.4"/>
<circle cx="211.60" cy="171.30" r="0.5" fill="#7070c8" fill-opacity="0.4"/>
<circle cx="228.74" cy="174.83" r="0.5" fill="#7070c8" fill-opacity="0.4"/>
<circle cx="219.60" cy="160.82" r="0.5" fill="#9090d8" fill-opacity="0.3"/>
<circle cx="220.63" cy="152.42" r="0.5" fill="#9090d8" fill-opacity="0.3"/>
<circle cx="219.79" cy="150.09" r="0.5" fill="#9090d8" fill-opacity="0.3"/>
<circle cx="216.97" cy="147.06" r="0.5" fill="#9090d8" fill-opacity="0.3"/>
<circle cx="218.39" cy="147.71" r="0.5" fill="#9090d8" fill-opacity="0.3"/>
<circle cx="219.39" cy="152.29" r="0.5" fill="#9090d8" fill-opacity="0.3"/>
<circle cx="219.01" cy="151.71" r="0.5" fill="#9090d8" fill-opacity="0.3"/>
<circle cx="215.93" cy="148.40" r="0.5" fill="#9090d8" fill-opacity="0.3"/>
<circle cx="219.19" cy="156.34" r="0.5" fill="#9090d8" fill-opacity="0.3"/>
<circle cx="217.63" cy="144.99" r="0.5" fill="#9090d8" fill-opacity="0.3"/>
<radialGradient id="r14" cx="0.5" cy="0.5" r="0.5"><stop offset="0" stop-color="#3a40a8"/><stop offset="0.5" stop-color="#34349c"/><stop offset="0.75" stop-color="#4040a8" stop-opacity="0.8"/><stop offset="1" stop-color="#8080d0" stop-opacity="0"/></radialGradient>
<ellipse cx="219.20" cy="168.60" rx="6.80" ry="5.80" fill="url(#r14)" fill-opacity="0.9" transform="rotate(-50 219.20 168.60)"/>
<circle cx="219.38" cy="164.29" r="0.55" fill="#2a2a90" fill-opacity="0.6"/>
<circle cx="215.21" cy="167.27" r="0.55" fill="#2a2a90" fill-opacity="0.6"/>
<circle cx="215.74" cy="167.99" r="0.55" fill="#2a2a90" fill-opacity="0.6"/>
<circle cx="218.12" cy="170.80" r="0.55" fill="#2a2a90" fill-opacity="0.6"/>
<circle cx="218.21" cy="168.76" r="0.55" fill="#2a2a90" fill-opacity="0.6"/>
<circle cx="217.98" cy="172.97" r="0.55" fill="#2a2a90" fill-opacity="0.6"/>
<circle cx="216.12" cy="167.23" r="0.55" fill="#2a2a90" fill-opacity="0.6"/>
<circle cx="221.13" cy="170.22" r="0.55" fill="#2a2a90" fill-opacity="0.6"/>
<circle cx="217.42" cy="172.14" r="0.55" fill="#2a2a90" fill-opacity="0.6"/>
<circle cx="218.34" cy="172.56" r="0.55" fill="#2a2a90" fill-opacity="0.6"/>
<circle cx="219.74" cy="167.03" r="0.55" fill="#2a2a90" fill-opacity="0.6"/>
<circle cx="215.05" cy="168.59" r="0.55" fill="#2a2a90" fill-opacity="0.6"/>
<circle cx="218.90" cy="171.75" r="0.55" fill="#2a2a90" fill-opacity="0.6"/>
<circle cx="219.50" cy="168.12" r="0.55" fill="#2a2a90" fill-opacity="0.6"/>
<circle cx="217.97" cy="169.53" r="0.55" fill="#2a2a90" fill-opacity="0.6"/>
<circle cx="216.57" cy="165.01" r="0.55" fill="#2a2a90" fill-opacity="0.6"/>
<circle cx="218.40" cy="169.38" r="0.55" fill="#2a2a90" fill-opacity="0.6"/>
<circle cx="216.08" cy="170.22" r="0.55" fill="#2a2a90" fill-opacity="0.6"/>
<circle cx="216.58" cy="167.34" r="0.55" fill="#2a2a90" fill-opacity="0.6"/>
<circle cx="214.80" cy="169.02" r="0.55" fill="#2a2a90" fill-opacity="0.6"/>
<circle cx="217.03" cy="170.66" r="0.55" fill="#2a2a90" fill-opacity="0.6"/>
<circle cx="219.96" cy="166.92" r="0.55" fill="#2a2a90" fill-opacity="0.6"/>
<circle cx="216.77" cy="168.09" r="0.55" fill="#2a2a90" fill-opacity="0.6"/>
<circle cx="218.46" cy="167.84" r="0.55" fill="#2a2a90" fill-opacity="0.6"/>
<circle cx="220.77" cy="166.39" r="0.55" fill="#2a2a90" fill-opacity="0.6"/>
<circle cx="221.06" cy="167.39" r="0.55" fill="#2a2a90" fill-opacity="0.6"/>
<circle cx="219.16" cy="168.85" r="0.55" fill="#2a2a90" fill-opacity="0.6"/>
<circle cx="218.43" cy="171.43" r="0.55" fill="#2a2a90" fill-opacity="0.6"/>
<circle cx="217.04" cy="167.91" r="0.55" fill="#2a2a90" fill-opacity="0.6"/>
<circle cx="220.31" cy="169.78" r="0.55" fill="#2a2a90" fill-opacity="0.6"/>
<line x1="0.00" y1="0.50" x2="520.00" y2="0.50" stroke="#5a5a5a" stroke-width="1" />
<line x1="0.50" y1="0.00" x2="0.50" y2="381.00" stroke="#4a4a4a" stroke-width="1" />
<line x1="519.40" y1="0.00" x2="519.40" y2="381.00" stroke="#606060" stroke-width="1.2" />
<line x1="0.00" y1="380.40" x2="520.00" y2="380.40" stroke="#585858" stroke-width="1.2" />
</svg>
</body></html>
